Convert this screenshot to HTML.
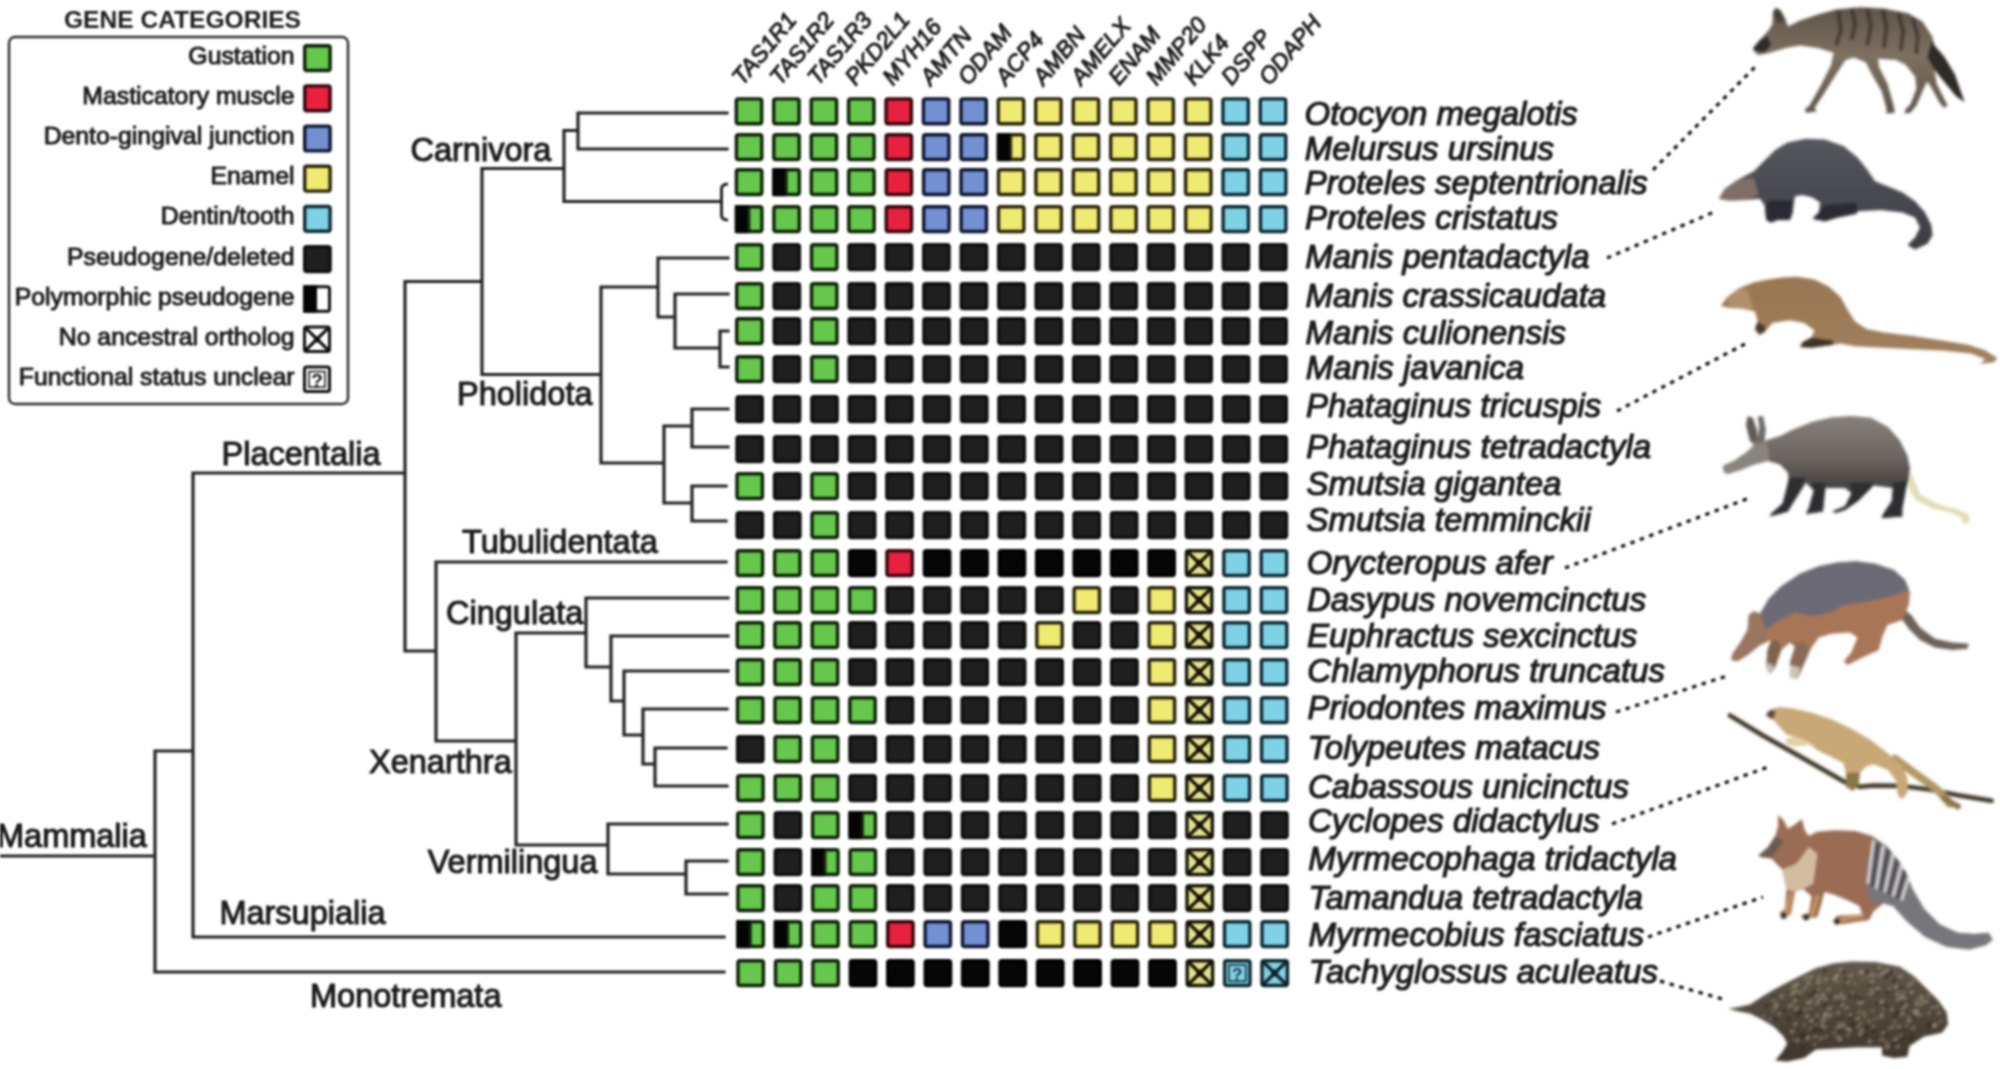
<!DOCTYPE html><html><head><meta charset="utf-8"><title>Figure</title><style>
html,body{margin:0;padding:0;background:#fff;width:2000px;height:1069px;overflow:hidden}
svg{display:block}#wrap{width:2000px;height:1069px;filter:blur(1px)}
text{font-family:"Liberation Sans", sans-serif}
</style></head><body><div id="wrap">
<svg width="2000" height="1069" viewBox="0 0 2000 1069">
<rect width="2000" height="1069" fill="#fff"/>
<text x="64" y="28" font-size="24" font-weight="bold" fill="#1c1c1c" textLength="237" lengthAdjust="spacingAndGlyphs">GENE CATEGORIES</text>
<rect x="9" y="37" width="339" height="367" rx="6" fill="none" stroke="#2a2a2a" stroke-width="2.4"/>
<text x="294.5" y="63.6" font-size="24.8" text-anchor="end" fill="#1c1c1c" stroke="#1c1c1c" stroke-width="1">Gustation</text>
<rect x="304.7" y="45.7" width="25.4" height="24.8" rx="2" fill="#66c74d" stroke="#0f2208" stroke-width="3.4"/>
<text x="294.5" y="103.8" font-size="24.8" text-anchor="end" fill="#1c1c1c" stroke="#1c1c1c" stroke-width="1">Masticatory muscle</text>
<rect x="304.7" y="85.9" width="25.4" height="24.8" rx="2" fill="#e8213e" stroke="#34060c" stroke-width="3.4"/>
<text x="294.5" y="144.0" font-size="24.8" text-anchor="end" fill="#1c1c1c" stroke="#1c1c1c" stroke-width="1">Dento-gingival junction</text>
<rect x="304.7" y="126.1" width="25.4" height="24.8" rx="2" fill="#7390d2" stroke="#0f1630" stroke-width="3.4"/>
<text x="294.5" y="184.2" font-size="24.8" text-anchor="end" fill="#1c1c1c" stroke="#1c1c1c" stroke-width="1">Enamel</text>
<rect x="304.7" y="166.3" width="25.4" height="24.8" rx="2" fill="#eeea72" stroke="#28240a" stroke-width="3.4"/>
<text x="294.5" y="224.4" font-size="24.8" text-anchor="end" fill="#1c1c1c" stroke="#1c1c1c" stroke-width="1">Dentin/tooth</text>
<rect x="304.7" y="206.5" width="25.4" height="24.8" rx="2" fill="#7fd2e6" stroke="#0f2a32" stroke-width="3.4"/>
<text x="294.5" y="264.6" font-size="24.8" text-anchor="end" fill="#1c1c1c" stroke="#1c1c1c" stroke-width="1">Pseudogene/deleted</text>
<rect x="304.7" y="246.7" width="25.4" height="24.8" rx="2" fill="#1f1f1f" stroke="#101010" stroke-width="3.4"/>
<text x="294.5" y="304.8" font-size="24.8" text-anchor="end" fill="#1c1c1c" stroke="#1c1c1c" stroke-width="1">Polymorphic pseudogene</text>
<rect x="304.5" y="286.7" width="25" height="24.5" rx="2" fill="#fff" stroke="#111" stroke-width="3"/>
<rect x="303" y="285.2" width="14" height="27.5" fill="#050505"/>
<text x="294.5" y="345.0" font-size="24.8" text-anchor="end" fill="#1c1c1c" stroke="#1c1c1c" stroke-width="1">No ancestral ortholog</text>
<rect x="304.5" y="326.9" width="25" height="24.5" rx="2" fill="#fff" stroke="#111" stroke-width="3"/>
<path d="M306 328.4L328 349.9M328 328.4L306 349.9" stroke="#111" stroke-width="3.2"/>
<rect x="314" y="336.4" width="6" height="6" fill="#111"/>
<text x="294.5" y="385.2" font-size="24.8" text-anchor="end" fill="#1c1c1c" stroke="#1c1c1c" stroke-width="1">Functional status unclear</text>
<rect x="304.5" y="367.1" width="25" height="24.5" rx="2" fill="#fff" stroke="#111" stroke-width="3"/>
<rect x="309" y="371.6" width="16" height="15.5" fill="none" stroke="#111" stroke-width="1.5"/>
<text x="317" y="387.1" font-size="19" font-weight="bold" text-anchor="middle" fill="#111">?</text>
<path d="M578 113L727 113M578 149L727 149M578 113L578 149M564 130.5L578 130.5M564 130.5L564 201.5M564 201.5L721 201.5M482 168.5L564 168.5M482 168.5L482 374.5M405 281.5L482 281.5M482 374.5L601 374.5M601 287L601 463M601 287L658 287M658 258L658 317M658 258L728 258M658 317L675 317M675 294L675 348M675 294L728 294M675 348L720 348M720 331L720 367M720 331L728 331M720 367L728 367M601 463L664 463M664 426L664 503M664 426L692 426M692 409L692 447M692 409L728 409M692 447L728 447M664 503L692 503M692 486L692 521M692 486L726 486M692 521L726 521M405 281.5L405 651M193 473L405 473M405 651L436 651M436 562L436 741M436 562L726 562M436 741L516 741M516 633L516 845M516 633L586 633M586 598L586 667M586 598L728 598M586 667L611 667M611 636L611 701M611 636L728 636M611 701L624 701M624 671L624 735M624 671L728 671M624 735L643 735M643 709L643 764M643 709L727 709M643 764L655 764M655 748L655 786M655 748L726 748M655 786L727 786M516 845L608 845M608 824L608 874M608 824L727 824M608 874L686 874M686 861L686 894M686 861L727 861M686 894L727 894M193 473L193 937M193 937L724 937M155 751L193 751M155 751L155 972M155 972L724 972M0 856L155 856" stroke="#232323" stroke-width="3.2" stroke-linecap="square" fill="none"/>
<path d="M728 184Q721.5 184 721.5 189L721.5 215Q721.5 220 728 220" stroke="#232323" stroke-width="3" fill="none"/>
<text x="410.5" y="160.7" font-size="32.5" fill="#1c1c1c" stroke="#1c1c1c" stroke-width="1.1">Carnivora</text>
<text x="457" y="405" font-size="32.5" fill="#1c1c1c" stroke="#1c1c1c" stroke-width="1.1">Pholidota</text>
<text x="221.5" y="465" font-size="32.5" fill="#1c1c1c" stroke="#1c1c1c" stroke-width="1.1">Placentalia</text>
<text x="462" y="552.5" font-size="32.5" fill="#1c1c1c" stroke="#1c1c1c" stroke-width="1.1">Tubulidentata</text>
<text x="446" y="624" font-size="32.5" fill="#1c1c1c" stroke="#1c1c1c" stroke-width="1.1">Cingulata</text>
<text x="369" y="772.5" font-size="32.5" fill="#1c1c1c" stroke="#1c1c1c" stroke-width="1.1">Xenarthra</text>
<text x="427.7" y="873.3" font-size="32.5" fill="#1c1c1c" stroke="#1c1c1c" stroke-width="1.1">Vermilingua</text>
<text x="219.4" y="924.2" font-size="32.5" fill="#1c1c1c" stroke="#1c1c1c" stroke-width="1.1">Marsupialia</text>
<text x="310" y="1007" font-size="32.5" fill="#1c1c1c" stroke="#1c1c1c" stroke-width="1.1">Monotremata</text>
<text x="-3" y="847" font-size="32.5" fill="#1c1c1c" stroke="#1c1c1c" stroke-width="1.1">Mammalia</text>
<rect x="736.3" y="98.9" width="25.4" height="24.8" rx="2" fill="#66c74d" stroke="#0f2208" stroke-width="3.4"/>
<rect x="773.7" y="98.9" width="25.4" height="24.8" rx="2" fill="#66c74d" stroke="#0f2208" stroke-width="3.4"/>
<rect x="811.2" y="98.9" width="25.4" height="24.8" rx="2" fill="#66c74d" stroke="#0f2208" stroke-width="3.4"/>
<rect x="848.6" y="98.9" width="25.4" height="24.8" rx="2" fill="#66c74d" stroke="#0f2208" stroke-width="3.4"/>
<rect x="886.0" y="98.9" width="25.4" height="24.8" rx="2" fill="#e8213e" stroke="#34060c" stroke-width="3.4"/>
<rect x="923.4" y="98.9" width="25.4" height="24.8" rx="2" fill="#7390d2" stroke="#0f1630" stroke-width="3.4"/>
<rect x="960.9" y="98.9" width="25.4" height="24.8" rx="2" fill="#7390d2" stroke="#0f1630" stroke-width="3.4"/>
<rect x="998.3" y="98.9" width="25.4" height="24.8" rx="2" fill="#eeea72" stroke="#28240a" stroke-width="3.4"/>
<rect x="1035.7" y="98.9" width="25.4" height="24.8" rx="2" fill="#eeea72" stroke="#28240a" stroke-width="3.4"/>
<rect x="1073.2" y="98.9" width="25.4" height="24.8" rx="2" fill="#eeea72" stroke="#28240a" stroke-width="3.4"/>
<rect x="1110.6" y="98.9" width="25.4" height="24.8" rx="2" fill="#eeea72" stroke="#28240a" stroke-width="3.4"/>
<rect x="1148.0" y="98.9" width="25.4" height="24.8" rx="2" fill="#eeea72" stroke="#28240a" stroke-width="3.4"/>
<rect x="1185.5" y="98.9" width="25.4" height="24.8" rx="2" fill="#eeea72" stroke="#28240a" stroke-width="3.4"/>
<rect x="1222.9" y="98.9" width="25.4" height="24.8" rx="2" fill="#7fd2e6" stroke="#0f2a32" stroke-width="3.4"/>
<rect x="1260.3" y="98.9" width="25.4" height="24.8" rx="2" fill="#7fd2e6" stroke="#0f2a32" stroke-width="3.4"/>
<rect x="736.4" y="134.7" width="25.4" height="24.8" rx="2" fill="#66c74d" stroke="#0f2208" stroke-width="3.4"/>
<rect x="773.8" y="134.7" width="25.4" height="24.8" rx="2" fill="#66c74d" stroke="#0f2208" stroke-width="3.4"/>
<rect x="811.2" y="134.7" width="25.4" height="24.8" rx="2" fill="#66c74d" stroke="#0f2208" stroke-width="3.4"/>
<rect x="848.7" y="134.7" width="25.4" height="24.8" rx="2" fill="#66c74d" stroke="#0f2208" stroke-width="3.4"/>
<rect x="886.1" y="134.7" width="25.4" height="24.8" rx="2" fill="#e8213e" stroke="#34060c" stroke-width="3.4"/>
<rect x="923.5" y="134.7" width="25.4" height="24.8" rx="2" fill="#7390d2" stroke="#0f1630" stroke-width="3.4"/>
<rect x="961.0" y="134.7" width="25.4" height="24.8" rx="2" fill="#7390d2" stroke="#0f1630" stroke-width="3.4"/>
<rect x="998.4" y="134.7" width="25.4" height="24.8" rx="2" fill="#eeea72" stroke="#28240a" stroke-width="3.4"/><rect x="996.7" y="133.0" width="13.5" height="28.2" fill="#050505"/><rect x="1010.2" y="135.0" width="2" height="24.2" fill="#28240a"/>
<rect x="1035.8" y="134.7" width="25.4" height="24.8" rx="2" fill="#eeea72" stroke="#28240a" stroke-width="3.4"/>
<rect x="1073.2" y="134.7" width="25.4" height="24.8" rx="2" fill="#eeea72" stroke="#28240a" stroke-width="3.4"/>
<rect x="1110.7" y="134.7" width="25.4" height="24.8" rx="2" fill="#eeea72" stroke="#28240a" stroke-width="3.4"/>
<rect x="1148.1" y="134.7" width="25.4" height="24.8" rx="2" fill="#eeea72" stroke="#28240a" stroke-width="3.4"/>
<rect x="1185.5" y="134.7" width="25.4" height="24.8" rx="2" fill="#eeea72" stroke="#28240a" stroke-width="3.4"/>
<rect x="1223.0" y="134.7" width="25.4" height="24.8" rx="2" fill="#7fd2e6" stroke="#0f2a32" stroke-width="3.4"/>
<rect x="1260.4" y="134.7" width="25.4" height="24.8" rx="2" fill="#7fd2e6" stroke="#0f2a32" stroke-width="3.4"/>
<rect x="736.4" y="169.7" width="25.4" height="24.8" rx="2" fill="#66c74d" stroke="#0f2208" stroke-width="3.4"/>
<rect x="773.9" y="169.7" width="25.4" height="24.8" rx="2" fill="#66c74d" stroke="#0f2208" stroke-width="3.4"/><rect x="772.2" y="168.0" width="13.5" height="28.2" fill="#050505"/><rect x="785.7" y="170.0" width="2" height="24.2" fill="#0f2208"/>
<rect x="811.3" y="169.7" width="25.4" height="24.8" rx="2" fill="#66c74d" stroke="#0f2208" stroke-width="3.4"/>
<rect x="848.7" y="169.7" width="25.4" height="24.8" rx="2" fill="#66c74d" stroke="#0f2208" stroke-width="3.4"/>
<rect x="886.2" y="169.7" width="25.4" height="24.8" rx="2" fill="#e8213e" stroke="#34060c" stroke-width="3.4"/>
<rect x="923.6" y="169.7" width="25.4" height="24.8" rx="2" fill="#7390d2" stroke="#0f1630" stroke-width="3.4"/>
<rect x="961.0" y="169.7" width="25.4" height="24.8" rx="2" fill="#7390d2" stroke="#0f1630" stroke-width="3.4"/>
<rect x="998.5" y="169.7" width="25.4" height="24.8" rx="2" fill="#eeea72" stroke="#28240a" stroke-width="3.4"/>
<rect x="1035.9" y="169.7" width="25.4" height="24.8" rx="2" fill="#eeea72" stroke="#28240a" stroke-width="3.4"/>
<rect x="1073.3" y="169.7" width="25.4" height="24.8" rx="2" fill="#eeea72" stroke="#28240a" stroke-width="3.4"/>
<rect x="1110.7" y="169.7" width="25.4" height="24.8" rx="2" fill="#eeea72" stroke="#28240a" stroke-width="3.4"/>
<rect x="1148.2" y="169.7" width="25.4" height="24.8" rx="2" fill="#eeea72" stroke="#28240a" stroke-width="3.4"/>
<rect x="1185.6" y="169.7" width="25.4" height="24.8" rx="2" fill="#eeea72" stroke="#28240a" stroke-width="3.4"/>
<rect x="1223.0" y="169.7" width="25.4" height="24.8" rx="2" fill="#7fd2e6" stroke="#0f2a32" stroke-width="3.4"/>
<rect x="1260.5" y="169.7" width="25.4" height="24.8" rx="2" fill="#7fd2e6" stroke="#0f2a32" stroke-width="3.4"/>
<rect x="736.5" y="206.7" width="25.4" height="24.8" rx="2" fill="#66c74d" stroke="#0f2208" stroke-width="3.4"/><rect x="734.8" y="205.0" width="13.5" height="28.2" fill="#050505"/><rect x="748.4" y="207.0" width="2" height="24.2" fill="#0f2208"/>
<rect x="773.9" y="206.7" width="25.4" height="24.8" rx="2" fill="#66c74d" stroke="#0f2208" stroke-width="3.4"/>
<rect x="811.4" y="206.7" width="25.4" height="24.8" rx="2" fill="#66c74d" stroke="#0f2208" stroke-width="3.4"/>
<rect x="848.8" y="206.7" width="25.4" height="24.8" rx="2" fill="#66c74d" stroke="#0f2208" stroke-width="3.4"/>
<rect x="886.2" y="206.7" width="25.4" height="24.8" rx="2" fill="#e8213e" stroke="#34060c" stroke-width="3.4"/>
<rect x="923.7" y="206.7" width="25.4" height="24.8" rx="2" fill="#7390d2" stroke="#0f1630" stroke-width="3.4"/>
<rect x="961.1" y="206.7" width="25.4" height="24.8" rx="2" fill="#7390d2" stroke="#0f1630" stroke-width="3.4"/>
<rect x="998.5" y="206.7" width="25.4" height="24.8" rx="2" fill="#eeea72" stroke="#28240a" stroke-width="3.4"/>
<rect x="1036.0" y="206.7" width="25.4" height="24.8" rx="2" fill="#eeea72" stroke="#28240a" stroke-width="3.4"/>
<rect x="1073.4" y="206.7" width="25.4" height="24.8" rx="2" fill="#eeea72" stroke="#28240a" stroke-width="3.4"/>
<rect x="1110.8" y="206.7" width="25.4" height="24.8" rx="2" fill="#eeea72" stroke="#28240a" stroke-width="3.4"/>
<rect x="1148.2" y="206.7" width="25.4" height="24.8" rx="2" fill="#eeea72" stroke="#28240a" stroke-width="3.4"/>
<rect x="1185.7" y="206.7" width="25.4" height="24.8" rx="2" fill="#eeea72" stroke="#28240a" stroke-width="3.4"/>
<rect x="1223.1" y="206.7" width="25.4" height="24.8" rx="2" fill="#7fd2e6" stroke="#0f2a32" stroke-width="3.4"/>
<rect x="1260.5" y="206.7" width="25.4" height="24.8" rx="2" fill="#7fd2e6" stroke="#0f2a32" stroke-width="3.4"/>
<rect x="736.6" y="244.7" width="25.4" height="24.8" rx="2" fill="#66c74d" stroke="#0f2208" stroke-width="3.4"/>
<rect x="774.0" y="244.7" width="25.4" height="24.8" rx="2" fill="#1f1f1f" stroke="#101010" stroke-width="3.4"/>
<rect x="811.5" y="244.7" width="25.4" height="24.8" rx="2" fill="#66c74d" stroke="#0f2208" stroke-width="3.4"/>
<rect x="848.9" y="244.7" width="25.4" height="24.8" rx="2" fill="#1f1f1f" stroke="#101010" stroke-width="3.4"/>
<rect x="886.3" y="244.7" width="25.4" height="24.8" rx="2" fill="#1f1f1f" stroke="#101010" stroke-width="3.4"/>
<rect x="923.7" y="244.7" width="25.4" height="24.8" rx="2" fill="#1f1f1f" stroke="#101010" stroke-width="3.4"/>
<rect x="961.2" y="244.7" width="25.4" height="24.8" rx="2" fill="#1f1f1f" stroke="#101010" stroke-width="3.4"/>
<rect x="998.6" y="244.7" width="25.4" height="24.8" rx="2" fill="#1f1f1f" stroke="#101010" stroke-width="3.4"/>
<rect x="1036.0" y="244.7" width="25.4" height="24.8" rx="2" fill="#1f1f1f" stroke="#101010" stroke-width="3.4"/>
<rect x="1073.5" y="244.7" width="25.4" height="24.8" rx="2" fill="#1f1f1f" stroke="#101010" stroke-width="3.4"/>
<rect x="1110.9" y="244.7" width="25.4" height="24.8" rx="2" fill="#1f1f1f" stroke="#101010" stroke-width="3.4"/>
<rect x="1148.3" y="244.7" width="25.4" height="24.8" rx="2" fill="#1f1f1f" stroke="#101010" stroke-width="3.4"/>
<rect x="1185.8" y="244.7" width="25.4" height="24.8" rx="2" fill="#1f1f1f" stroke="#101010" stroke-width="3.4"/>
<rect x="1223.2" y="244.7" width="25.4" height="24.8" rx="2" fill="#1f1f1f" stroke="#101010" stroke-width="3.4"/>
<rect x="1260.6" y="244.7" width="25.4" height="24.8" rx="2" fill="#1f1f1f" stroke="#101010" stroke-width="3.4"/>
<rect x="736.7" y="283.7" width="25.4" height="24.8" rx="2" fill="#66c74d" stroke="#0f2208" stroke-width="3.4"/>
<rect x="774.1" y="283.7" width="25.4" height="24.8" rx="2" fill="#1f1f1f" stroke="#101010" stroke-width="3.4"/>
<rect x="811.5" y="283.7" width="25.4" height="24.8" rx="2" fill="#66c74d" stroke="#0f2208" stroke-width="3.4"/>
<rect x="849.0" y="283.7" width="25.4" height="24.8" rx="2" fill="#1f1f1f" stroke="#101010" stroke-width="3.4"/>
<rect x="886.4" y="283.7" width="25.4" height="24.8" rx="2" fill="#1f1f1f" stroke="#101010" stroke-width="3.4"/>
<rect x="923.8" y="283.7" width="25.4" height="24.8" rx="2" fill="#1f1f1f" stroke="#101010" stroke-width="3.4"/>
<rect x="961.2" y="283.7" width="25.4" height="24.8" rx="2" fill="#1f1f1f" stroke="#101010" stroke-width="3.4"/>
<rect x="998.7" y="283.7" width="25.4" height="24.8" rx="2" fill="#1f1f1f" stroke="#101010" stroke-width="3.4"/>
<rect x="1036.1" y="283.7" width="25.4" height="24.8" rx="2" fill="#1f1f1f" stroke="#101010" stroke-width="3.4"/>
<rect x="1073.5" y="283.7" width="25.4" height="24.8" rx="2" fill="#1f1f1f" stroke="#101010" stroke-width="3.4"/>
<rect x="1111.0" y="283.7" width="25.4" height="24.8" rx="2" fill="#1f1f1f" stroke="#101010" stroke-width="3.4"/>
<rect x="1148.4" y="283.7" width="25.4" height="24.8" rx="2" fill="#1f1f1f" stroke="#101010" stroke-width="3.4"/>
<rect x="1185.8" y="283.7" width="25.4" height="24.8" rx="2" fill="#1f1f1f" stroke="#101010" stroke-width="3.4"/>
<rect x="1223.3" y="283.7" width="25.4" height="24.8" rx="2" fill="#1f1f1f" stroke="#101010" stroke-width="3.4"/>
<rect x="1260.7" y="283.7" width="25.4" height="24.8" rx="2" fill="#1f1f1f" stroke="#101010" stroke-width="3.4"/>
<rect x="736.7" y="318.7" width="25.4" height="24.8" rx="2" fill="#66c74d" stroke="#0f2208" stroke-width="3.4"/>
<rect x="774.2" y="318.7" width="25.4" height="24.8" rx="2" fill="#1f1f1f" stroke="#101010" stroke-width="3.4"/>
<rect x="811.6" y="318.7" width="25.4" height="24.8" rx="2" fill="#66c74d" stroke="#0f2208" stroke-width="3.4"/>
<rect x="849.0" y="318.7" width="25.4" height="24.8" rx="2" fill="#1f1f1f" stroke="#101010" stroke-width="3.4"/>
<rect x="886.5" y="318.7" width="25.4" height="24.8" rx="2" fill="#1f1f1f" stroke="#101010" stroke-width="3.4"/>
<rect x="923.9" y="318.7" width="25.4" height="24.8" rx="2" fill="#1f1f1f" stroke="#101010" stroke-width="3.4"/>
<rect x="961.3" y="318.7" width="25.4" height="24.8" rx="2" fill="#1f1f1f" stroke="#101010" stroke-width="3.4"/>
<rect x="998.7" y="318.7" width="25.4" height="24.8" rx="2" fill="#1f1f1f" stroke="#101010" stroke-width="3.4"/>
<rect x="1036.2" y="318.7" width="25.4" height="24.8" rx="2" fill="#1f1f1f" stroke="#101010" stroke-width="3.4"/>
<rect x="1073.6" y="318.7" width="25.4" height="24.8" rx="2" fill="#1f1f1f" stroke="#101010" stroke-width="3.4"/>
<rect x="1111.0" y="318.7" width="25.4" height="24.8" rx="2" fill="#1f1f1f" stroke="#101010" stroke-width="3.4"/>
<rect x="1148.5" y="318.7" width="25.4" height="24.8" rx="2" fill="#1f1f1f" stroke="#101010" stroke-width="3.4"/>
<rect x="1185.9" y="318.7" width="25.4" height="24.8" rx="2" fill="#1f1f1f" stroke="#101010" stroke-width="3.4"/>
<rect x="1223.3" y="318.7" width="25.4" height="24.8" rx="2" fill="#1f1f1f" stroke="#101010" stroke-width="3.4"/>
<rect x="1260.8" y="318.7" width="25.4" height="24.8" rx="2" fill="#1f1f1f" stroke="#101010" stroke-width="3.4"/>
<rect x="736.8" y="356.7" width="25.4" height="24.8" rx="2" fill="#66c74d" stroke="#0f2208" stroke-width="3.4"/>
<rect x="774.2" y="356.7" width="25.4" height="24.8" rx="2" fill="#1f1f1f" stroke="#101010" stroke-width="3.4"/>
<rect x="811.7" y="356.7" width="25.4" height="24.8" rx="2" fill="#66c74d" stroke="#0f2208" stroke-width="3.4"/>
<rect x="849.1" y="356.7" width="25.4" height="24.8" rx="2" fill="#1f1f1f" stroke="#101010" stroke-width="3.4"/>
<rect x="886.5" y="356.7" width="25.4" height="24.8" rx="2" fill="#1f1f1f" stroke="#101010" stroke-width="3.4"/>
<rect x="924.0" y="356.7" width="25.4" height="24.8" rx="2" fill="#1f1f1f" stroke="#101010" stroke-width="3.4"/>
<rect x="961.4" y="356.7" width="25.4" height="24.8" rx="2" fill="#1f1f1f" stroke="#101010" stroke-width="3.4"/>
<rect x="998.8" y="356.7" width="25.4" height="24.8" rx="2" fill="#1f1f1f" stroke="#101010" stroke-width="3.4"/>
<rect x="1036.3" y="356.7" width="25.4" height="24.8" rx="2" fill="#1f1f1f" stroke="#101010" stroke-width="3.4"/>
<rect x="1073.7" y="356.7" width="25.4" height="24.8" rx="2" fill="#1f1f1f" stroke="#101010" stroke-width="3.4"/>
<rect x="1111.1" y="356.7" width="25.4" height="24.8" rx="2" fill="#1f1f1f" stroke="#101010" stroke-width="3.4"/>
<rect x="1148.5" y="356.7" width="25.4" height="24.8" rx="2" fill="#1f1f1f" stroke="#101010" stroke-width="3.4"/>
<rect x="1186.0" y="356.7" width="25.4" height="24.8" rx="2" fill="#1f1f1f" stroke="#101010" stroke-width="3.4"/>
<rect x="1223.4" y="356.7" width="25.4" height="24.8" rx="2" fill="#1f1f1f" stroke="#101010" stroke-width="3.4"/>
<rect x="1260.8" y="356.7" width="25.4" height="24.8" rx="2" fill="#1f1f1f" stroke="#101010" stroke-width="3.4"/>
<rect x="736.9" y="396.7" width="25.4" height="24.8" rx="2" fill="#1f1f1f" stroke="#101010" stroke-width="3.4"/>
<rect x="774.3" y="396.7" width="25.4" height="24.8" rx="2" fill="#1f1f1f" stroke="#101010" stroke-width="3.4"/>
<rect x="811.8" y="396.7" width="25.4" height="24.8" rx="2" fill="#1f1f1f" stroke="#101010" stroke-width="3.4"/>
<rect x="849.2" y="396.7" width="25.4" height="24.8" rx="2" fill="#1f1f1f" stroke="#101010" stroke-width="3.4"/>
<rect x="886.6" y="396.7" width="25.4" height="24.8" rx="2" fill="#1f1f1f" stroke="#101010" stroke-width="3.4"/>
<rect x="924.0" y="396.7" width="25.4" height="24.8" rx="2" fill="#1f1f1f" stroke="#101010" stroke-width="3.4"/>
<rect x="961.5" y="396.7" width="25.4" height="24.8" rx="2" fill="#1f1f1f" stroke="#101010" stroke-width="3.4"/>
<rect x="998.9" y="396.7" width="25.4" height="24.8" rx="2" fill="#1f1f1f" stroke="#101010" stroke-width="3.4"/>
<rect x="1036.3" y="396.7" width="25.4" height="24.8" rx="2" fill="#1f1f1f" stroke="#101010" stroke-width="3.4"/>
<rect x="1073.8" y="396.7" width="25.4" height="24.8" rx="2" fill="#1f1f1f" stroke="#101010" stroke-width="3.4"/>
<rect x="1111.2" y="396.7" width="25.4" height="24.8" rx="2" fill="#1f1f1f" stroke="#101010" stroke-width="3.4"/>
<rect x="1148.6" y="396.7" width="25.4" height="24.8" rx="2" fill="#1f1f1f" stroke="#101010" stroke-width="3.4"/>
<rect x="1186.1" y="396.7" width="25.4" height="24.8" rx="2" fill="#1f1f1f" stroke="#101010" stroke-width="3.4"/>
<rect x="1223.5" y="396.7" width="25.4" height="24.8" rx="2" fill="#1f1f1f" stroke="#101010" stroke-width="3.4"/>
<rect x="1260.9" y="396.7" width="25.4" height="24.8" rx="2" fill="#1f1f1f" stroke="#101010" stroke-width="3.4"/>
<rect x="737.0" y="436.7" width="25.4" height="24.8" rx="2" fill="#1f1f1f" stroke="#101010" stroke-width="3.4"/>
<rect x="774.4" y="436.7" width="25.4" height="24.8" rx="2" fill="#1f1f1f" stroke="#101010" stroke-width="3.4"/>
<rect x="811.8" y="436.7" width="25.4" height="24.8" rx="2" fill="#1f1f1f" stroke="#101010" stroke-width="3.4"/>
<rect x="849.3" y="436.7" width="25.4" height="24.8" rx="2" fill="#1f1f1f" stroke="#101010" stroke-width="3.4"/>
<rect x="886.7" y="436.7" width="25.4" height="24.8" rx="2" fill="#1f1f1f" stroke="#101010" stroke-width="3.4"/>
<rect x="924.1" y="436.7" width="25.4" height="24.8" rx="2" fill="#1f1f1f" stroke="#101010" stroke-width="3.4"/>
<rect x="961.6" y="436.7" width="25.4" height="24.8" rx="2" fill="#1f1f1f" stroke="#101010" stroke-width="3.4"/>
<rect x="999.0" y="436.7" width="25.4" height="24.8" rx="2" fill="#1f1f1f" stroke="#101010" stroke-width="3.4"/>
<rect x="1036.4" y="436.7" width="25.4" height="24.8" rx="2" fill="#1f1f1f" stroke="#101010" stroke-width="3.4"/>
<rect x="1073.8" y="436.7" width="25.4" height="24.8" rx="2" fill="#1f1f1f" stroke="#101010" stroke-width="3.4"/>
<rect x="1111.3" y="436.7" width="25.4" height="24.8" rx="2" fill="#1f1f1f" stroke="#101010" stroke-width="3.4"/>
<rect x="1148.7" y="436.7" width="25.4" height="24.8" rx="2" fill="#1f1f1f" stroke="#101010" stroke-width="3.4"/>
<rect x="1186.1" y="436.7" width="25.4" height="24.8" rx="2" fill="#1f1f1f" stroke="#101010" stroke-width="3.4"/>
<rect x="1223.6" y="436.7" width="25.4" height="24.8" rx="2" fill="#1f1f1f" stroke="#101010" stroke-width="3.4"/>
<rect x="1261.0" y="436.7" width="25.4" height="24.8" rx="2" fill="#1f1f1f" stroke="#101010" stroke-width="3.4"/>
<rect x="737.0" y="473.7" width="25.4" height="24.8" rx="2" fill="#66c74d" stroke="#0f2208" stroke-width="3.4"/>
<rect x="774.5" y="473.7" width="25.4" height="24.8" rx="2" fill="#1f1f1f" stroke="#101010" stroke-width="3.4"/>
<rect x="811.9" y="473.7" width="25.4" height="24.8" rx="2" fill="#66c74d" stroke="#0f2208" stroke-width="3.4"/>
<rect x="849.3" y="473.7" width="25.4" height="24.8" rx="2" fill="#1f1f1f" stroke="#101010" stroke-width="3.4"/>
<rect x="886.8" y="473.7" width="25.4" height="24.8" rx="2" fill="#1f1f1f" stroke="#101010" stroke-width="3.4"/>
<rect x="924.2" y="473.7" width="25.4" height="24.8" rx="2" fill="#1f1f1f" stroke="#101010" stroke-width="3.4"/>
<rect x="961.6" y="473.7" width="25.4" height="24.8" rx="2" fill="#1f1f1f" stroke="#101010" stroke-width="3.4"/>
<rect x="999.1" y="473.7" width="25.4" height="24.8" rx="2" fill="#1f1f1f" stroke="#101010" stroke-width="3.4"/>
<rect x="1036.5" y="473.7" width="25.4" height="24.8" rx="2" fill="#1f1f1f" stroke="#101010" stroke-width="3.4"/>
<rect x="1073.9" y="473.7" width="25.4" height="24.8" rx="2" fill="#1f1f1f" stroke="#101010" stroke-width="3.4"/>
<rect x="1111.3" y="473.7" width="25.4" height="24.8" rx="2" fill="#1f1f1f" stroke="#101010" stroke-width="3.4"/>
<rect x="1148.8" y="473.7" width="25.4" height="24.8" rx="2" fill="#1f1f1f" stroke="#101010" stroke-width="3.4"/>
<rect x="1186.2" y="473.7" width="25.4" height="24.8" rx="2" fill="#1f1f1f" stroke="#101010" stroke-width="3.4"/>
<rect x="1223.6" y="473.7" width="25.4" height="24.8" rx="2" fill="#1f1f1f" stroke="#101010" stroke-width="3.4"/>
<rect x="1261.1" y="473.7" width="25.4" height="24.8" rx="2" fill="#1f1f1f" stroke="#101010" stroke-width="3.4"/>
<rect x="737.1" y="512.7" width="25.4" height="24.8" rx="2" fill="#1f1f1f" stroke="#101010" stroke-width="3.4"/>
<rect x="774.6" y="512.7" width="25.4" height="24.8" rx="2" fill="#1f1f1f" stroke="#101010" stroke-width="3.4"/>
<rect x="812.0" y="512.7" width="25.4" height="24.8" rx="2" fill="#66c74d" stroke="#0f2208" stroke-width="3.4"/>
<rect x="849.4" y="512.7" width="25.4" height="24.8" rx="2" fill="#1f1f1f" stroke="#101010" stroke-width="3.4"/>
<rect x="886.8" y="512.7" width="25.4" height="24.8" rx="2" fill="#1f1f1f" stroke="#101010" stroke-width="3.4"/>
<rect x="924.3" y="512.7" width="25.4" height="24.8" rx="2" fill="#1f1f1f" stroke="#101010" stroke-width="3.4"/>
<rect x="961.7" y="512.7" width="25.4" height="24.8" rx="2" fill="#1f1f1f" stroke="#101010" stroke-width="3.4"/>
<rect x="999.1" y="512.7" width="25.4" height="24.8" rx="2" fill="#1f1f1f" stroke="#101010" stroke-width="3.4"/>
<rect x="1036.6" y="512.7" width="25.4" height="24.8" rx="2" fill="#1f1f1f" stroke="#101010" stroke-width="3.4"/>
<rect x="1074.0" y="512.7" width="25.4" height="24.8" rx="2" fill="#1f1f1f" stroke="#101010" stroke-width="3.4"/>
<rect x="1111.4" y="512.7" width="25.4" height="24.8" rx="2" fill="#1f1f1f" stroke="#101010" stroke-width="3.4"/>
<rect x="1148.9" y="512.7" width="25.4" height="24.8" rx="2" fill="#1f1f1f" stroke="#101010" stroke-width="3.4"/>
<rect x="1186.3" y="512.7" width="25.4" height="24.8" rx="2" fill="#1f1f1f" stroke="#101010" stroke-width="3.4"/>
<rect x="1223.7" y="512.7" width="25.4" height="24.8" rx="2" fill="#1f1f1f" stroke="#101010" stroke-width="3.4"/>
<rect x="1261.1" y="512.7" width="25.4" height="24.8" rx="2" fill="#1f1f1f" stroke="#101010" stroke-width="3.4"/>
<rect x="737.2" y="550.7" width="25.4" height="24.8" rx="2" fill="#66c74d" stroke="#0f2208" stroke-width="3.4"/>
<rect x="774.6" y="550.7" width="25.4" height="24.8" rx="2" fill="#66c74d" stroke="#0f2208" stroke-width="3.4"/>
<rect x="812.1" y="550.7" width="25.4" height="24.8" rx="2" fill="#66c74d" stroke="#0f2208" stroke-width="3.4"/>
<rect x="849.5" y="550.7" width="25.4" height="24.8" rx="2" fill="#060606" stroke="#020202" stroke-width="3.4"/>
<rect x="886.9" y="550.7" width="25.4" height="24.8" rx="2" fill="#e8213e" stroke="#34060c" stroke-width="3.4"/>
<rect x="924.4" y="550.7" width="25.4" height="24.8" rx="2" fill="#060606" stroke="#020202" stroke-width="3.4"/>
<rect x="961.8" y="550.7" width="25.4" height="24.8" rx="2" fill="#060606" stroke="#020202" stroke-width="3.4"/>
<rect x="999.2" y="550.7" width="25.4" height="24.8" rx="2" fill="#060606" stroke="#020202" stroke-width="3.4"/>
<rect x="1036.6" y="550.7" width="25.4" height="24.8" rx="2" fill="#060606" stroke="#020202" stroke-width="3.4"/>
<rect x="1074.1" y="550.7" width="25.4" height="24.8" rx="2" fill="#060606" stroke="#020202" stroke-width="3.4"/>
<rect x="1111.5" y="550.7" width="25.4" height="24.8" rx="2" fill="#060606" stroke="#020202" stroke-width="3.4"/>
<rect x="1148.9" y="550.7" width="25.4" height="24.8" rx="2" fill="#060606" stroke="#020202" stroke-width="3.4"/>
<rect x="1186.4" y="550.7" width="25.4" height="24.8" rx="2" fill="#e4e28e" stroke="#161608" stroke-width="3.4"/><path d="M1187.7 552.0L1210.5 574.2M1210.5 552.0L1187.7 574.2" stroke="#161608" stroke-width="3.4"/><rect x="1195.6" y="559.6" width="7" height="7" fill="#161608"/>
<rect x="1223.8" y="550.7" width="25.4" height="24.8" rx="2" fill="#7fd2e6" stroke="#0f2a32" stroke-width="3.4"/>
<rect x="1261.2" y="550.7" width="25.4" height="24.8" rx="2" fill="#7fd2e6" stroke="#0f2a32" stroke-width="3.4"/>
<rect x="737.3" y="587.7" width="25.4" height="24.8" rx="2" fill="#66c74d" stroke="#0f2208" stroke-width="3.4"/>
<rect x="774.7" y="587.7" width="25.4" height="24.8" rx="2" fill="#66c74d" stroke="#0f2208" stroke-width="3.4"/>
<rect x="812.1" y="587.7" width="25.4" height="24.8" rx="2" fill="#66c74d" stroke="#0f2208" stroke-width="3.4"/>
<rect x="849.6" y="587.7" width="25.4" height="24.8" rx="2" fill="#66c74d" stroke="#0f2208" stroke-width="3.4"/>
<rect x="887.0" y="587.7" width="25.4" height="24.8" rx="2" fill="#1f1f1f" stroke="#101010" stroke-width="3.4"/>
<rect x="924.4" y="587.7" width="25.4" height="24.8" rx="2" fill="#1f1f1f" stroke="#101010" stroke-width="3.4"/>
<rect x="961.9" y="587.7" width="25.4" height="24.8" rx="2" fill="#1f1f1f" stroke="#101010" stroke-width="3.4"/>
<rect x="999.3" y="587.7" width="25.4" height="24.8" rx="2" fill="#1f1f1f" stroke="#101010" stroke-width="3.4"/>
<rect x="1036.7" y="587.7" width="25.4" height="24.8" rx="2" fill="#1f1f1f" stroke="#101010" stroke-width="3.4"/>
<rect x="1074.1" y="587.7" width="25.4" height="24.8" rx="2" fill="#eeea72" stroke="#28240a" stroke-width="3.4"/>
<rect x="1111.6" y="587.7" width="25.4" height="24.8" rx="2" fill="#1f1f1f" stroke="#101010" stroke-width="3.4"/>
<rect x="1149.0" y="587.7" width="25.4" height="24.8" rx="2" fill="#eeea72" stroke="#28240a" stroke-width="3.4"/>
<rect x="1186.4" y="587.7" width="25.4" height="24.8" rx="2" fill="#e4e28e" stroke="#161608" stroke-width="3.4"/><path d="M1187.7 589.0L1210.5 611.2M1210.5 589.0L1187.7 611.2" stroke="#161608" stroke-width="3.4"/><rect x="1195.6" y="596.6" width="7" height="7" fill="#161608"/>
<rect x="1223.9" y="587.7" width="25.4" height="24.8" rx="2" fill="#7fd2e6" stroke="#0f2a32" stroke-width="3.4"/>
<rect x="1261.3" y="587.7" width="25.4" height="24.8" rx="2" fill="#7fd2e6" stroke="#0f2a32" stroke-width="3.4"/>
<rect x="737.3" y="622.7" width="25.4" height="24.8" rx="2" fill="#66c74d" stroke="#0f2208" stroke-width="3.4"/>
<rect x="774.8" y="622.7" width="25.4" height="24.8" rx="2" fill="#66c74d" stroke="#0f2208" stroke-width="3.4"/>
<rect x="812.2" y="622.7" width="25.4" height="24.8" rx="2" fill="#66c74d" stroke="#0f2208" stroke-width="3.4"/>
<rect x="849.6" y="622.7" width="25.4" height="24.8" rx="2" fill="#1f1f1f" stroke="#101010" stroke-width="3.4"/>
<rect x="887.1" y="622.7" width="25.4" height="24.8" rx="2" fill="#1f1f1f" stroke="#101010" stroke-width="3.4"/>
<rect x="924.5" y="622.7" width="25.4" height="24.8" rx="2" fill="#1f1f1f" stroke="#101010" stroke-width="3.4"/>
<rect x="961.9" y="622.7" width="25.4" height="24.8" rx="2" fill="#1f1f1f" stroke="#101010" stroke-width="3.4"/>
<rect x="999.4" y="622.7" width="25.4" height="24.8" rx="2" fill="#1f1f1f" stroke="#101010" stroke-width="3.4"/>
<rect x="1036.8" y="622.7" width="25.4" height="24.8" rx="2" fill="#eeea72" stroke="#28240a" stroke-width="3.4"/>
<rect x="1074.2" y="622.7" width="25.4" height="24.8" rx="2" fill="#1f1f1f" stroke="#101010" stroke-width="3.4"/>
<rect x="1111.6" y="622.7" width="25.4" height="24.8" rx="2" fill="#1f1f1f" stroke="#101010" stroke-width="3.4"/>
<rect x="1149.1" y="622.7" width="25.4" height="24.8" rx="2" fill="#eeea72" stroke="#28240a" stroke-width="3.4"/>
<rect x="1186.5" y="622.7" width="25.4" height="24.8" rx="2" fill="#e4e28e" stroke="#161608" stroke-width="3.4"/><path d="M1187.8 624.0L1210.6 646.2M1210.6 624.0L1187.8 646.2" stroke="#161608" stroke-width="3.4"/><rect x="1195.7" y="631.6" width="7" height="7" fill="#161608"/>
<rect x="1223.9" y="622.7" width="25.4" height="24.8" rx="2" fill="#7fd2e6" stroke="#0f2a32" stroke-width="3.4"/>
<rect x="1261.4" y="622.7" width="25.4" height="24.8" rx="2" fill="#7fd2e6" stroke="#0f2a32" stroke-width="3.4"/>
<rect x="737.4" y="659.7" width="25.4" height="24.8" rx="2" fill="#66c74d" stroke="#0f2208" stroke-width="3.4"/>
<rect x="774.9" y="659.7" width="25.4" height="24.8" rx="2" fill="#66c74d" stroke="#0f2208" stroke-width="3.4"/>
<rect x="812.3" y="659.7" width="25.4" height="24.8" rx="2" fill="#66c74d" stroke="#0f2208" stroke-width="3.4"/>
<rect x="849.7" y="659.7" width="25.4" height="24.8" rx="2" fill="#1f1f1f" stroke="#101010" stroke-width="3.4"/>
<rect x="887.1" y="659.7" width="25.4" height="24.8" rx="2" fill="#1f1f1f" stroke="#101010" stroke-width="3.4"/>
<rect x="924.6" y="659.7" width="25.4" height="24.8" rx="2" fill="#1f1f1f" stroke="#101010" stroke-width="3.4"/>
<rect x="962.0" y="659.7" width="25.4" height="24.8" rx="2" fill="#1f1f1f" stroke="#101010" stroke-width="3.4"/>
<rect x="999.4" y="659.7" width="25.4" height="24.8" rx="2" fill="#1f1f1f" stroke="#101010" stroke-width="3.4"/>
<rect x="1036.9" y="659.7" width="25.4" height="24.8" rx="2" fill="#1f1f1f" stroke="#101010" stroke-width="3.4"/>
<rect x="1074.3" y="659.7" width="25.4" height="24.8" rx="2" fill="#1f1f1f" stroke="#101010" stroke-width="3.4"/>
<rect x="1111.7" y="659.7" width="25.4" height="24.8" rx="2" fill="#1f1f1f" stroke="#101010" stroke-width="3.4"/>
<rect x="1149.2" y="659.7" width="25.4" height="24.8" rx="2" fill="#eeea72" stroke="#28240a" stroke-width="3.4"/>
<rect x="1186.6" y="659.7" width="25.4" height="24.8" rx="2" fill="#e4e28e" stroke="#161608" stroke-width="3.4"/><path d="M1187.9 661.0L1210.7 683.2M1210.7 661.0L1187.9 683.2" stroke="#161608" stroke-width="3.4"/><rect x="1195.8" y="668.6" width="7" height="7" fill="#161608"/>
<rect x="1224.0" y="659.7" width="25.4" height="24.8" rx="2" fill="#7fd2e6" stroke="#0f2a32" stroke-width="3.4"/>
<rect x="1261.4" y="659.7" width="25.4" height="24.8" rx="2" fill="#7fd2e6" stroke="#0f2a32" stroke-width="3.4"/>
<rect x="737.5" y="697.7" width="25.4" height="24.8" rx="2" fill="#66c74d" stroke="#0f2208" stroke-width="3.4"/>
<rect x="774.9" y="697.7" width="25.4" height="24.8" rx="2" fill="#66c74d" stroke="#0f2208" stroke-width="3.4"/>
<rect x="812.4" y="697.7" width="25.4" height="24.8" rx="2" fill="#66c74d" stroke="#0f2208" stroke-width="3.4"/>
<rect x="849.8" y="697.7" width="25.4" height="24.8" rx="2" fill="#66c74d" stroke="#0f2208" stroke-width="3.4"/>
<rect x="887.2" y="697.7" width="25.4" height="24.8" rx="2" fill="#1f1f1f" stroke="#101010" stroke-width="3.4"/>
<rect x="924.6" y="697.7" width="25.4" height="24.8" rx="2" fill="#1f1f1f" stroke="#101010" stroke-width="3.4"/>
<rect x="962.1" y="697.7" width="25.4" height="24.8" rx="2" fill="#1f1f1f" stroke="#101010" stroke-width="3.4"/>
<rect x="999.5" y="697.7" width="25.4" height="24.8" rx="2" fill="#1f1f1f" stroke="#101010" stroke-width="3.4"/>
<rect x="1036.9" y="697.7" width="25.4" height="24.8" rx="2" fill="#1f1f1f" stroke="#101010" stroke-width="3.4"/>
<rect x="1074.4" y="697.7" width="25.4" height="24.8" rx="2" fill="#1f1f1f" stroke="#101010" stroke-width="3.4"/>
<rect x="1111.8" y="697.7" width="25.4" height="24.8" rx="2" fill="#1f1f1f" stroke="#101010" stroke-width="3.4"/>
<rect x="1149.2" y="697.7" width="25.4" height="24.8" rx="2" fill="#eeea72" stroke="#28240a" stroke-width="3.4"/>
<rect x="1186.7" y="697.7" width="25.4" height="24.8" rx="2" fill="#e4e28e" stroke="#161608" stroke-width="3.4"/><path d="M1188.0 699.0L1210.8 721.2M1210.8 699.0L1188.0 721.2" stroke="#161608" stroke-width="3.4"/><rect x="1195.9" y="706.6" width="7" height="7" fill="#161608"/>
<rect x="1224.1" y="697.7" width="25.4" height="24.8" rx="2" fill="#7fd2e6" stroke="#0f2a32" stroke-width="3.4"/>
<rect x="1261.5" y="697.7" width="25.4" height="24.8" rx="2" fill="#7fd2e6" stroke="#0f2a32" stroke-width="3.4"/>
<rect x="737.6" y="736.7" width="25.4" height="24.8" rx="2" fill="#1f1f1f" stroke="#101010" stroke-width="3.4"/>
<rect x="775.0" y="736.7" width="25.4" height="24.8" rx="2" fill="#66c74d" stroke="#0f2208" stroke-width="3.4"/>
<rect x="812.4" y="736.7" width="25.4" height="24.8" rx="2" fill="#66c74d" stroke="#0f2208" stroke-width="3.4"/>
<rect x="849.9" y="736.7" width="25.4" height="24.8" rx="2" fill="#1f1f1f" stroke="#101010" stroke-width="3.4"/>
<rect x="887.3" y="736.7" width="25.4" height="24.8" rx="2" fill="#1f1f1f" stroke="#101010" stroke-width="3.4"/>
<rect x="924.7" y="736.7" width="25.4" height="24.8" rx="2" fill="#1f1f1f" stroke="#101010" stroke-width="3.4"/>
<rect x="962.2" y="736.7" width="25.4" height="24.8" rx="2" fill="#1f1f1f" stroke="#101010" stroke-width="3.4"/>
<rect x="999.6" y="736.7" width="25.4" height="24.8" rx="2" fill="#1f1f1f" stroke="#101010" stroke-width="3.4"/>
<rect x="1037.0" y="736.7" width="25.4" height="24.8" rx="2" fill="#1f1f1f" stroke="#101010" stroke-width="3.4"/>
<rect x="1074.4" y="736.7" width="25.4" height="24.8" rx="2" fill="#1f1f1f" stroke="#101010" stroke-width="3.4"/>
<rect x="1111.9" y="736.7" width="25.4" height="24.8" rx="2" fill="#1f1f1f" stroke="#101010" stroke-width="3.4"/>
<rect x="1149.3" y="736.7" width="25.4" height="24.8" rx="2" fill="#eeea72" stroke="#28240a" stroke-width="3.4"/>
<rect x="1186.7" y="736.7" width="25.4" height="24.8" rx="2" fill="#e4e28e" stroke="#161608" stroke-width="3.4"/><path d="M1188.0 738.0L1210.8 760.2M1210.8 738.0L1188.0 760.2" stroke="#161608" stroke-width="3.4"/><rect x="1195.9" y="745.6" width="7" height="7" fill="#161608"/>
<rect x="1224.2" y="736.7" width="25.4" height="24.8" rx="2" fill="#7fd2e6" stroke="#0f2a32" stroke-width="3.4"/>
<rect x="1261.6" y="736.7" width="25.4" height="24.8" rx="2" fill="#7fd2e6" stroke="#0f2a32" stroke-width="3.4"/>
<rect x="737.7" y="775.7" width="25.4" height="24.8" rx="2" fill="#66c74d" stroke="#0f2208" stroke-width="3.4"/>
<rect x="775.1" y="775.7" width="25.4" height="24.8" rx="2" fill="#66c74d" stroke="#0f2208" stroke-width="3.4"/>
<rect x="812.5" y="775.7" width="25.4" height="24.8" rx="2" fill="#66c74d" stroke="#0f2208" stroke-width="3.4"/>
<rect x="849.9" y="775.7" width="25.4" height="24.8" rx="2" fill="#1f1f1f" stroke="#101010" stroke-width="3.4"/>
<rect x="887.4" y="775.7" width="25.4" height="24.8" rx="2" fill="#1f1f1f" stroke="#101010" stroke-width="3.4"/>
<rect x="924.8" y="775.7" width="25.4" height="24.8" rx="2" fill="#1f1f1f" stroke="#101010" stroke-width="3.4"/>
<rect x="962.2" y="775.7" width="25.4" height="24.8" rx="2" fill="#1f1f1f" stroke="#101010" stroke-width="3.4"/>
<rect x="999.7" y="775.7" width="25.4" height="24.8" rx="2" fill="#1f1f1f" stroke="#101010" stroke-width="3.4"/>
<rect x="1037.1" y="775.7" width="25.4" height="24.8" rx="2" fill="#1f1f1f" stroke="#101010" stroke-width="3.4"/>
<rect x="1074.5" y="775.7" width="25.4" height="24.8" rx="2" fill="#1f1f1f" stroke="#101010" stroke-width="3.4"/>
<rect x="1112.0" y="775.7" width="25.4" height="24.8" rx="2" fill="#1f1f1f" stroke="#101010" stroke-width="3.4"/>
<rect x="1149.4" y="775.7" width="25.4" height="24.8" rx="2" fill="#eeea72" stroke="#28240a" stroke-width="3.4"/>
<rect x="1186.8" y="775.7" width="25.4" height="24.8" rx="2" fill="#e4e28e" stroke="#161608" stroke-width="3.4"/><path d="M1188.1 777.0L1210.9 799.2M1210.9 777.0L1188.1 799.2" stroke="#161608" stroke-width="3.4"/><rect x="1196.0" y="784.6" width="7" height="7" fill="#161608"/>
<rect x="1224.2" y="775.7" width="25.4" height="24.8" rx="2" fill="#7fd2e6" stroke="#0f2a32" stroke-width="3.4"/>
<rect x="1261.7" y="775.7" width="25.4" height="24.8" rx="2" fill="#7fd2e6" stroke="#0f2a32" stroke-width="3.4"/>
<rect x="737.7" y="812.7" width="25.4" height="24.8" rx="2" fill="#66c74d" stroke="#0f2208" stroke-width="3.4"/>
<rect x="775.2" y="812.7" width="25.4" height="24.8" rx="2" fill="#1f1f1f" stroke="#101010" stroke-width="3.4"/>
<rect x="812.6" y="812.7" width="25.4" height="24.8" rx="2" fill="#66c74d" stroke="#0f2208" stroke-width="3.4"/>
<rect x="850.0" y="812.7" width="25.4" height="24.8" rx="2" fill="#66c74d" stroke="#0f2208" stroke-width="3.4"/><rect x="848.3" y="811.0" width="13.5" height="28.2" fill="#050505"/><rect x="861.9" y="813.0" width="2" height="24.2" fill="#0f2208"/>
<rect x="887.4" y="812.7" width="25.4" height="24.8" rx="2" fill="#1f1f1f" stroke="#101010" stroke-width="3.4"/>
<rect x="924.9" y="812.7" width="25.4" height="24.8" rx="2" fill="#1f1f1f" stroke="#101010" stroke-width="3.4"/>
<rect x="962.3" y="812.7" width="25.4" height="24.8" rx="2" fill="#1f1f1f" stroke="#101010" stroke-width="3.4"/>
<rect x="999.7" y="812.7" width="25.4" height="24.8" rx="2" fill="#1f1f1f" stroke="#101010" stroke-width="3.4"/>
<rect x="1037.2" y="812.7" width="25.4" height="24.8" rx="2" fill="#1f1f1f" stroke="#101010" stroke-width="3.4"/>
<rect x="1074.6" y="812.7" width="25.4" height="24.8" rx="2" fill="#1f1f1f" stroke="#101010" stroke-width="3.4"/>
<rect x="1112.0" y="812.7" width="25.4" height="24.8" rx="2" fill="#1f1f1f" stroke="#101010" stroke-width="3.4"/>
<rect x="1149.5" y="812.7" width="25.4" height="24.8" rx="2" fill="#1f1f1f" stroke="#101010" stroke-width="3.4"/>
<rect x="1186.9" y="812.7" width="25.4" height="24.8" rx="2" fill="#e4e28e" stroke="#161608" stroke-width="3.4"/><path d="M1188.2 814.0L1211.0 836.2M1211.0 814.0L1188.2 836.2" stroke="#161608" stroke-width="3.4"/><rect x="1196.1" y="821.6" width="7" height="7" fill="#161608"/>
<rect x="1224.3" y="812.7" width="25.4" height="24.8" rx="2" fill="#1f1f1f" stroke="#101010" stroke-width="3.4"/>
<rect x="1261.7" y="812.7" width="25.4" height="24.8" rx="2" fill="#1f1f1f" stroke="#101010" stroke-width="3.4"/>
<rect x="737.8" y="849.7" width="25.4" height="24.8" rx="2" fill="#66c74d" stroke="#0f2208" stroke-width="3.4"/>
<rect x="775.2" y="849.7" width="25.4" height="24.8" rx="2" fill="#1f1f1f" stroke="#101010" stroke-width="3.4"/>
<rect x="812.7" y="849.7" width="25.4" height="24.8" rx="2" fill="#66c74d" stroke="#0f2208" stroke-width="3.4"/><rect x="811.0" y="848.0" width="13.5" height="28.2" fill="#050505"/><rect x="824.5" y="850.0" width="2" height="24.2" fill="#0f2208"/>
<rect x="850.1" y="849.7" width="25.4" height="24.8" rx="2" fill="#66c74d" stroke="#0f2208" stroke-width="3.4"/>
<rect x="887.5" y="849.7" width="25.4" height="24.8" rx="2" fill="#1f1f1f" stroke="#101010" stroke-width="3.4"/>
<rect x="925.0" y="849.7" width="25.4" height="24.8" rx="2" fill="#1f1f1f" stroke="#101010" stroke-width="3.4"/>
<rect x="962.4" y="849.7" width="25.4" height="24.8" rx="2" fill="#1f1f1f" stroke="#101010" stroke-width="3.4"/>
<rect x="999.8" y="849.7" width="25.4" height="24.8" rx="2" fill="#1f1f1f" stroke="#101010" stroke-width="3.4"/>
<rect x="1037.2" y="849.7" width="25.4" height="24.8" rx="2" fill="#1f1f1f" stroke="#101010" stroke-width="3.4"/>
<rect x="1074.7" y="849.7" width="25.4" height="24.8" rx="2" fill="#1f1f1f" stroke="#101010" stroke-width="3.4"/>
<rect x="1112.1" y="849.7" width="25.4" height="24.8" rx="2" fill="#1f1f1f" stroke="#101010" stroke-width="3.4"/>
<rect x="1149.5" y="849.7" width="25.4" height="24.8" rx="2" fill="#1f1f1f" stroke="#101010" stroke-width="3.4"/>
<rect x="1187.0" y="849.7" width="25.4" height="24.8" rx="2" fill="#e4e28e" stroke="#161608" stroke-width="3.4"/><path d="M1188.3 851.0L1211.1 873.2M1211.1 851.0L1188.3 873.2" stroke="#161608" stroke-width="3.4"/><rect x="1196.2" y="858.6" width="7" height="7" fill="#161608"/>
<rect x="1224.4" y="849.7" width="25.4" height="24.8" rx="2" fill="#1f1f1f" stroke="#101010" stroke-width="3.4"/>
<rect x="1261.8" y="849.7" width="25.4" height="24.8" rx="2" fill="#1f1f1f" stroke="#101010" stroke-width="3.4"/>
<rect x="737.9" y="885.7" width="25.4" height="24.8" rx="2" fill="#66c74d" stroke="#0f2208" stroke-width="3.4"/>
<rect x="775.3" y="885.7" width="25.4" height="24.8" rx="2" fill="#1f1f1f" stroke="#101010" stroke-width="3.4"/>
<rect x="812.7" y="885.7" width="25.4" height="24.8" rx="2" fill="#66c74d" stroke="#0f2208" stroke-width="3.4"/>
<rect x="850.2" y="885.7" width="25.4" height="24.8" rx="2" fill="#66c74d" stroke="#0f2208" stroke-width="3.4"/>
<rect x="887.6" y="885.7" width="25.4" height="24.8" rx="2" fill="#1f1f1f" stroke="#101010" stroke-width="3.4"/>
<rect x="925.0" y="885.7" width="25.4" height="24.8" rx="2" fill="#1f1f1f" stroke="#101010" stroke-width="3.4"/>
<rect x="962.5" y="885.7" width="25.4" height="24.8" rx="2" fill="#1f1f1f" stroke="#101010" stroke-width="3.4"/>
<rect x="999.9" y="885.7" width="25.4" height="24.8" rx="2" fill="#1f1f1f" stroke="#101010" stroke-width="3.4"/>
<rect x="1037.3" y="885.7" width="25.4" height="24.8" rx="2" fill="#1f1f1f" stroke="#101010" stroke-width="3.4"/>
<rect x="1074.7" y="885.7" width="25.4" height="24.8" rx="2" fill="#1f1f1f" stroke="#101010" stroke-width="3.4"/>
<rect x="1112.2" y="885.7" width="25.4" height="24.8" rx="2" fill="#1f1f1f" stroke="#101010" stroke-width="3.4"/>
<rect x="1149.6" y="885.7" width="25.4" height="24.8" rx="2" fill="#1f1f1f" stroke="#101010" stroke-width="3.4"/>
<rect x="1187.0" y="885.7" width="25.4" height="24.8" rx="2" fill="#e4e28e" stroke="#161608" stroke-width="3.4"/><path d="M1188.3 887.0L1211.1 909.2M1211.1 887.0L1188.3 909.2" stroke="#161608" stroke-width="3.4"/><rect x="1196.2" y="894.6" width="7" height="7" fill="#161608"/>
<rect x="1224.5" y="885.7" width="25.4" height="24.8" rx="2" fill="#1f1f1f" stroke="#101010" stroke-width="3.4"/>
<rect x="1261.9" y="885.7" width="25.4" height="24.8" rx="2" fill="#1f1f1f" stroke="#101010" stroke-width="3.4"/>
<rect x="737.9" y="921.7" width="25.4" height="24.8" rx="2" fill="#66c74d" stroke="#0f2208" stroke-width="3.4"/><rect x="736.2" y="920.0" width="13.5" height="28.2" fill="#050505"/><rect x="749.8" y="922.0" width="2" height="24.2" fill="#0f2208"/>
<rect x="775.4" y="921.7" width="25.4" height="24.8" rx="2" fill="#66c74d" stroke="#0f2208" stroke-width="3.4"/><rect x="773.7" y="920.0" width="13.5" height="28.2" fill="#050505"/><rect x="787.2" y="922.0" width="2" height="24.2" fill="#0f2208"/>
<rect x="812.8" y="921.7" width="25.4" height="24.8" rx="2" fill="#66c74d" stroke="#0f2208" stroke-width="3.4"/>
<rect x="850.2" y="921.7" width="25.4" height="24.8" rx="2" fill="#66c74d" stroke="#0f2208" stroke-width="3.4"/>
<rect x="887.7" y="921.7" width="25.4" height="24.8" rx="2" fill="#e8213e" stroke="#34060c" stroke-width="3.4"/>
<rect x="925.1" y="921.7" width="25.4" height="24.8" rx="2" fill="#7390d2" stroke="#0f1630" stroke-width="3.4"/>
<rect x="962.5" y="921.7" width="25.4" height="24.8" rx="2" fill="#7390d2" stroke="#0f1630" stroke-width="3.4"/>
<rect x="1000.0" y="921.7" width="25.4" height="24.8" rx="2" fill="#060606" stroke="#020202" stroke-width="3.4"/>
<rect x="1037.4" y="921.7" width="25.4" height="24.8" rx="2" fill="#eeea72" stroke="#28240a" stroke-width="3.4"/>
<rect x="1074.8" y="921.7" width="25.4" height="24.8" rx="2" fill="#eeea72" stroke="#28240a" stroke-width="3.4"/>
<rect x="1112.2" y="921.7" width="25.4" height="24.8" rx="2" fill="#eeea72" stroke="#28240a" stroke-width="3.4"/>
<rect x="1149.7" y="921.7" width="25.4" height="24.8" rx="2" fill="#eeea72" stroke="#28240a" stroke-width="3.4"/>
<rect x="1187.1" y="921.7" width="25.4" height="24.8" rx="2" fill="#e4e28e" stroke="#161608" stroke-width="3.4"/><path d="M1188.4 923.0L1211.2 945.2M1211.2 923.0L1188.4 945.2" stroke="#161608" stroke-width="3.4"/><rect x="1196.3" y="930.6" width="7" height="7" fill="#161608"/>
<rect x="1224.5" y="921.7" width="25.4" height="24.8" rx="2" fill="#7fd2e6" stroke="#0f2a32" stroke-width="3.4"/>
<rect x="1262.0" y="921.7" width="25.4" height="24.8" rx="2" fill="#7fd2e6" stroke="#0f2a32" stroke-width="3.4"/>
<rect x="738.0" y="960.7" width="25.4" height="24.8" rx="2" fill="#66c74d" stroke="#0f2208" stroke-width="3.4"/>
<rect x="775.5" y="960.7" width="25.4" height="24.8" rx="2" fill="#66c74d" stroke="#0f2208" stroke-width="3.4"/>
<rect x="812.9" y="960.7" width="25.4" height="24.8" rx="2" fill="#66c74d" stroke="#0f2208" stroke-width="3.4"/>
<rect x="850.3" y="960.7" width="25.4" height="24.8" rx="2" fill="#060606" stroke="#020202" stroke-width="3.4"/>
<rect x="887.7" y="960.7" width="25.4" height="24.8" rx="2" fill="#060606" stroke="#020202" stroke-width="3.4"/>
<rect x="925.2" y="960.7" width="25.4" height="24.8" rx="2" fill="#060606" stroke="#020202" stroke-width="3.4"/>
<rect x="962.6" y="960.7" width="25.4" height="24.8" rx="2" fill="#060606" stroke="#020202" stroke-width="3.4"/>
<rect x="1000.0" y="960.7" width="25.4" height="24.8" rx="2" fill="#060606" stroke="#020202" stroke-width="3.4"/>
<rect x="1037.5" y="960.7" width="25.4" height="24.8" rx="2" fill="#060606" stroke="#020202" stroke-width="3.4"/>
<rect x="1074.9" y="960.7" width="25.4" height="24.8" rx="2" fill="#060606" stroke="#020202" stroke-width="3.4"/>
<rect x="1112.3" y="960.7" width="25.4" height="24.8" rx="2" fill="#060606" stroke="#020202" stroke-width="3.4"/>
<rect x="1149.8" y="960.7" width="25.4" height="24.8" rx="2" fill="#060606" stroke="#020202" stroke-width="3.4"/>
<rect x="1187.2" y="960.7" width="25.4" height="24.8" rx="2" fill="#e4e28e" stroke="#161608" stroke-width="3.4"/><path d="M1188.5 962.0L1211.3 984.2M1211.3 962.0L1188.5 984.2" stroke="#161608" stroke-width="3.4"/><rect x="1196.4" y="969.6" width="7" height="7" fill="#161608"/>
<rect x="1224.6" y="960.7" width="25.4" height="24.8" rx="2" fill="#7fd2e6" stroke="#0f2a32" stroke-width="3.4"/><rect x="1228.9" y="965.0" width="16.8" height="16.2" fill="none" stroke="#0f2a32" stroke-width="1.5"/><text x="1237.3" y="979.7" font-size="17" font-weight="bold" text-anchor="middle" fill="#1d3a44">?</text>
<rect x="1262.0" y="960.7" width="25.4" height="24.8" rx="2" fill="#86cfe0" stroke="#0c2630" stroke-width="3.4"/><path d="M1263.3 962.0L1286.1 984.2M1286.1 962.0L1263.3 984.2" stroke="#0c2630" stroke-width="3.4"/><rect x="1271.2" y="969.6" width="7" height="7" fill="#0c2630"/>
<text x="742.6" y="86.5" font-size="23.2" font-style="italic" fill="#1c1c1c" stroke="#1c1c1c" stroke-width="1" transform="rotate(-50 742.6 86.5)">TAS1R1</text>
<text x="780.2" y="86.5" font-size="23.2" font-style="italic" fill="#1c1c1c" stroke="#1c1c1c" stroke-width="1" transform="rotate(-50 780.2 86.5)">TAS1R2</text>
<text x="817.9" y="86.5" font-size="23.2" font-style="italic" fill="#1c1c1c" stroke="#1c1c1c" stroke-width="1" transform="rotate(-50 817.9 86.5)">TAS1R3</text>
<text x="855.5" y="86.5" font-size="23.2" font-style="italic" fill="#1c1c1c" stroke="#1c1c1c" stroke-width="1" transform="rotate(-50 855.5 86.5)">PKD2L1</text>
<text x="893.1" y="86.5" font-size="23.2" font-style="italic" fill="#1c1c1c" stroke="#1c1c1c" stroke-width="1" transform="rotate(-50 893.1 86.5)">MYH16</text>
<text x="930.8" y="86.5" font-size="23.2" font-style="italic" fill="#1c1c1c" stroke="#1c1c1c" stroke-width="1" transform="rotate(-50 930.8 86.5)">AMTN</text>
<text x="968.4" y="86.5" font-size="23.2" font-style="italic" fill="#1c1c1c" stroke="#1c1c1c" stroke-width="1" transform="rotate(-50 968.4 86.5)">ODAM</text>
<text x="1006.0" y="86.5" font-size="23.2" font-style="italic" fill="#1c1c1c" stroke="#1c1c1c" stroke-width="1" transform="rotate(-50 1006.0 86.5)">ACP4</text>
<text x="1043.6" y="86.5" font-size="23.2" font-style="italic" fill="#1c1c1c" stroke="#1c1c1c" stroke-width="1" transform="rotate(-50 1043.6 86.5)">AMBN</text>
<text x="1081.3" y="86.5" font-size="23.2" font-style="italic" fill="#1c1c1c" stroke="#1c1c1c" stroke-width="1" transform="rotate(-50 1081.3 86.5)">AMELX</text>
<text x="1118.9" y="86.5" font-size="23.2" font-style="italic" fill="#1c1c1c" stroke="#1c1c1c" stroke-width="1" transform="rotate(-50 1118.9 86.5)">ENAM</text>
<text x="1156.5" y="86.5" font-size="23.2" font-style="italic" fill="#1c1c1c" stroke="#1c1c1c" stroke-width="1" transform="rotate(-50 1156.5 86.5)">MMP20</text>
<text x="1194.2" y="86.5" font-size="23.2" font-style="italic" fill="#1c1c1c" stroke="#1c1c1c" stroke-width="1" transform="rotate(-50 1194.2 86.5)">KLK4</text>
<text x="1231.8" y="86.5" font-size="23.2" font-style="italic" fill="#1c1c1c" stroke="#1c1c1c" stroke-width="1" transform="rotate(-50 1231.8 86.5)">DSPP</text>
<text x="1269.4" y="86.5" font-size="23.2" font-style="italic" fill="#1c1c1c" stroke="#1c1c1c" stroke-width="1" transform="rotate(-50 1269.4 86.5)">ODAPH</text>
<text x="1304.5" y="125" font-size="33" font-style="italic" fill="#1c1c1c" stroke="#1c1c1c" stroke-width="1.2">Otocyon megalotis</text>
<text x="1304.7" y="160" font-size="33" font-style="italic" fill="#1c1c1c" stroke="#1c1c1c" stroke-width="1.2">Melursus ursinus</text>
<text x="1304.8" y="194" font-size="33" font-style="italic" fill="#1c1c1c" stroke="#1c1c1c" stroke-width="1.2">Proteles septentrionalis</text>
<text x="1305.0" y="229" font-size="33" font-style="italic" fill="#1c1c1c" stroke="#1c1c1c" stroke-width="1.2">Proteles cristatus</text>
<text x="1305.2" y="268" font-size="33" font-style="italic" fill="#1c1c1c" stroke="#1c1c1c" stroke-width="1.2">Manis pentadactyla</text>
<text x="1305.4" y="306.8" font-size="33" font-style="italic" fill="#1c1c1c" stroke="#1c1c1c" stroke-width="1.2">Manis crassicaudata</text>
<text x="1305.6" y="344" font-size="33" font-style="italic" fill="#1c1c1c" stroke="#1c1c1c" stroke-width="1.2">Manis culionensis</text>
<text x="1305.8" y="379" font-size="33" font-style="italic" fill="#1c1c1c" stroke="#1c1c1c" stroke-width="1.2">Manis javanica</text>
<text x="1306.0" y="416.8" font-size="33" font-style="italic" fill="#1c1c1c" stroke="#1c1c1c" stroke-width="1.2">Phataginus tricuspis</text>
<text x="1306.2" y="457.5" font-size="33" font-style="italic" fill="#1c1c1c" stroke="#1c1c1c" stroke-width="1.2">Phataginus tetradactyla</text>
<text x="1306.4" y="495.4" font-size="33" font-style="italic" fill="#1c1c1c" stroke="#1c1c1c" stroke-width="1.2">Smutsia gigantea</text>
<text x="1306.5" y="530.5" font-size="33" font-style="italic" fill="#1c1c1c" stroke="#1c1c1c" stroke-width="1.2">Smutsia temminckii</text>
<text x="1306.7" y="574" font-size="33" font-style="italic" fill="#1c1c1c" stroke="#1c1c1c" stroke-width="1.2">Orycteropus afer</text>
<text x="1306.9" y="610.5" font-size="33" font-style="italic" fill="#1c1c1c" stroke="#1c1c1c" stroke-width="1.2">Dasypus novemcinctus</text>
<text x="1307.1" y="647" font-size="33" font-style="italic" fill="#1c1c1c" stroke="#1c1c1c" stroke-width="1.2">Euphractus sexcinctus</text>
<text x="1307.3" y="682" font-size="33" font-style="italic" fill="#1c1c1c" stroke="#1c1c1c" stroke-width="1.2">Chlamyphorus truncatus</text>
<text x="1307.5" y="718.7" font-size="33" font-style="italic" fill="#1c1c1c" stroke="#1c1c1c" stroke-width="1.2">Priodontes maximus</text>
<text x="1307.7" y="758.8" font-size="33" font-style="italic" fill="#1c1c1c" stroke="#1c1c1c" stroke-width="1.2">Tolypeutes matacus</text>
<text x="1307.9" y="798" font-size="33" font-style="italic" fill="#1c1c1c" stroke="#1c1c1c" stroke-width="1.2">Cabassous unicinctus</text>
<text x="1308.0" y="832.4" font-size="33" font-style="italic" fill="#1c1c1c" stroke="#1c1c1c" stroke-width="1.2">Cyclopes didactylus</text>
<text x="1308.2" y="870" font-size="33" font-style="italic" fill="#1c1c1c" stroke="#1c1c1c" stroke-width="1.2">Myrmecophaga tridactyla</text>
<text x="1308.4" y="908.8" font-size="33" font-style="italic" fill="#1c1c1c" stroke="#1c1c1c" stroke-width="1.2">Tamandua tetradactyla</text>
<text x="1308.6" y="946.4" font-size="33" font-style="italic" fill="#1c1c1c" stroke="#1c1c1c" stroke-width="1.2">Myrmecobius fasciatus</text>
<text x="1308.8" y="983" font-size="33" font-style="italic" fill="#1c1c1c" stroke="#1c1c1c" stroke-width="1.2">Tachyglossus aculeatus</text>
<line x1="1653" y1="170" x2="1756" y2="66" stroke="#222" stroke-width="3.4" stroke-dasharray="4.5 5.5"/>
<line x1="1607" y1="258" x2="1714" y2="212" stroke="#222" stroke-width="3.4" stroke-dasharray="4.5 5.5"/>
<line x1="1617" y1="411" x2="1745" y2="344" stroke="#222" stroke-width="3.4" stroke-dasharray="4.5 5.5"/>
<line x1="1565" y1="568" x2="1752" y2="497" stroke="#222" stroke-width="3.4" stroke-dasharray="4.5 5.5"/>
<line x1="1616" y1="712" x2="1730" y2="675" stroke="#222" stroke-width="3.4" stroke-dasharray="4.5 5.5"/>
<line x1="1612" y1="824" x2="1768" y2="767" stroke="#222" stroke-width="3.4" stroke-dasharray="4.5 5.5"/>
<line x1="1648" y1="937" x2="1763" y2="897" stroke="#222" stroke-width="3.4" stroke-dasharray="4.5 5.5"/>
<line x1="1660" y1="981" x2="1726" y2="1000" stroke="#222" stroke-width="3.4" stroke-dasharray="4.5 5.5"/>
<defs>
<filter id="bl" x="-5%" y="-5%" width="110%" height="110%"><feGaussianBlur stdDeviation="0.8"/></filter>
<linearGradient id="awg" x1="0" y1="0" x2="0" y2="1"><stop offset="0" stop-color="#5e5448"/><stop offset="0.45" stop-color="#7e7060"/><stop offset="1" stop-color="#5e554a"/></linearGradient>
<linearGradient id="avg" x1="0" y1="0" x2="0" y2="1"><stop offset="0" stop-color="#88807a"/><stop offset="0.4" stop-color="#6c6660"/><stop offset="0.7" stop-color="#454241"/><stop offset="1" stop-color="#2a2a2c"/></linearGradient>
<linearGradient id="pgg" x1="0" y1="0" x2="0" y2="1"><stop offset="0" stop-color="#56565e"/><stop offset="1" stop-color="#3c3c44"/></linearGradient>
<linearGradient id="bpg" x1="0" y1="0" x2="0" y2="1"><stop offset="0" stop-color="#9a7652"/><stop offset="1" stop-color="#a0805e"/></linearGradient>
<linearGradient id="ecg" x1="0" y1="0" x2="0" y2="1"><stop offset="0" stop-color="#62594a"/><stop offset="1" stop-color="#3e362c"/></linearGradient>
</defs>
<g filter="url(#bl)">
<path d="M1753.8 50.4 L1753.2 48.0 L1760.4 39.6 L1768.8 30.0 L1772.4 24.0 L1773.0 12.0 L1776.0 7.8 L1780.8 10.8 L1785.6 19.2 L1788.0 26.4 L1800.0 20.4 L1818.0 14.4 L1836.0 9.6 L1860.0 7.2 L1884.0 8.4 L1908.0 13.2 L1922.4 21.6 L1932.0 36.0 L1934.4 45.6 L1944.0 56.4 L1954.8 74.4 L1963.2 98.4 L1964.4 102.0 L1956.0 96.0 L1944.0 81.6 L1934.4 69.6 L1936.8 84.0 L1944.0 98.4 L1947.6 105.6 L1944.0 108.0 L1939.2 102.0 L1932.0 88.8 L1927.2 81.6 L1923.6 88.8 L1916.4 105.6 L1910.4 112.8 L1904.4 113.4 L1905.6 109.2 L1910.4 104.4 L1916.4 88.8 L1915.2 76.8 L1905.6 64.8 L1896.0 60.0 L1878.0 58.8 L1879.2 67.2 L1887.6 84.0 L1893.6 105.6 L1894.8 112.8 L1886.4 113.4 L1886.4 108.0 L1881.6 91.2 L1872.0 74.4 L1866.0 62.4 L1854.0 57.6 L1845.6 60.0 L1836.0 74.4 L1824.0 93.6 L1814.4 108.0 L1816.8 111.6 L1806.0 112.8 L1804.8 109.2 L1809.6 105.6 L1821.6 84.0 L1831.2 64.8 L1833.6 52.8 L1818.0 48.0 L1800.0 45.6 L1785.6 48.0 L1770.0 52.8 L1758.0 55.2 Z" fill="url(#awg)"/>
<path d="M1932.0 39.6 L1934.4 45.6 L1944.0 56.4 L1954.8 74.4 L1963.2 98.4 L1964.4 102.0 L1956.0 96.0 L1944.0 81.6 L1934.4 69.6 L1927.2 57.6 Z" fill="#2f2a26"/>
<path d="M1838.4 10.8 L1840.8 30.0 L1836.0 45.6" fill="none" stroke="#3a3129" stroke-width="4" opacity="0.8"/>
<path d="M1851.6 8.4 L1855.2 24.0 L1851.6 39.6" fill="none" stroke="#3a3129" stroke-width="4" opacity="0.8"/>
<path d="M1867.2 8.4 L1870.8 26.4 L1867.2 45.6" fill="none" stroke="#3a3129" stroke-width="4" opacity="0.8"/>
<path d="M1882.8 9.6 L1886.4 27.6 L1884.0 48.0" fill="none" stroke="#3a3129" stroke-width="4" opacity="0.8"/>
<path d="M1898.4 13.2 L1903.2 31.2 L1900.8 50.4" fill="none" stroke="#3a3129" stroke-width="4" opacity="0.8"/>
<path d="M1912.8 18.0 L1917.6 36.0 L1916.4 54.0" fill="none" stroke="#3a3129" stroke-width="4" opacity="0.8"/>
<path d="M1753.8 50.4 L1753.2 48.0 L1760.4 39.6 L1767.6 36.0 L1771.2 45.6 L1764.0 52.8 Z" fill="#2e2c2c"/>
<path d="M1773.0 12.0 L1776.0 7.8 L1780.8 10.8 L1784.4 19.2 L1778.4 24.0 Z" fill="#4a4038"/>
</g>
<g filter="url(#bl)">
<path d="M1718.8 198.8 L1725.0 188.8 L1737.5 180.0 L1753.8 171.2 L1765.0 160.0 L1775.0 150.0 L1787.5 142.5 L1806.2 138.8 L1825.0 139.4 L1843.8 146.2 L1857.5 157.5 L1867.5 170.0 L1875.0 181.2 L1887.5 186.2 L1902.5 192.5 L1915.0 201.2 L1925.0 212.5 L1931.2 225.0 L1932.5 235.0 L1927.5 243.8 L1915.0 249.4 L1907.5 245.0 L1915.0 237.5 L1920.0 227.5 L1915.0 217.5 L1902.5 212.5 L1881.2 210.0 L1857.5 211.2 L1856.2 213.8 L1837.5 217.5 L1825.0 221.2 L1812.5 218.8 L1818.8 212.5 L1820.0 202.5 L1812.5 197.5 L1802.5 195.0 L1795.0 196.2 L1792.5 212.5 L1790.0 220.0 L1777.5 220.0 L1771.2 222.5 L1766.2 220.0 L1765.0 206.2 L1760.0 198.8 L1743.8 200.0 L1728.8 200.6 Z" fill="url(#pgg)"/>
<path d="M1718.8 198.8 L1725.0 188.8 L1737.5 180.0 L1753.8 177.5 L1758.8 195.0 L1743.8 200.0 L1728.8 200.6 Z" fill="#7e6e66"/>
<path d="M1766.2 220.0 L1765.0 206.2 L1770.0 200.0 L1792.5 200.0 L1792.5 212.5 L1790.0 220.0 L1777.5 220.0 L1771.2 222.5 Z" fill="#2a2a30"/>
<path d="M1818.8 212.5 L1825.0 205.0 L1856.2 202.5 L1857.5 211.2 L1856.2 213.8 L1837.5 217.5 L1825.0 221.2 L1812.5 218.8 Z" fill="#2a2a30"/>
</g>
<g filter="url(#bl)">
<path d="M1720.9 305.7 L1727.4 297.0 L1739.0 288.3 L1753.5 282.5 L1768.0 279.6 L1782.5 277.4 L1797.0 276.7 L1814.4 279.6 L1828.9 286.8 L1840.5 297.0 L1847.7 310.0 L1855.0 321.6 L1866.6 328.9 L1884.0 332.5 L1913.0 336.1 L1942.0 340.5 L1968.1 344.8 L1985.5 350.6 L1997.1 357.9 L1994.2 362.2 L1979.7 363.7 L1985.5 359.3 L1971.0 353.5 L1942.0 350.6 L1913.0 349.2 L1884.0 347.7 L1855.0 346.3 L1840.5 343.4 L1833.2 344.8 L1811.5 347.7 L1799.9 347.0 L1802.8 341.9 L1811.5 337.6 L1814.4 330.3 L1804.2 323.1 L1789.7 320.2 L1772.3 323.1 L1765.1 331.8 L1759.3 334.7 L1754.9 328.9 L1757.8 321.6 L1754.9 311.5 L1741.9 308.6 L1728.8 307.9 Z" fill="url(#bpg)"/>
<path d="M1727.4 297.0 L1739.0 288.3 L1747.7 289.7 L1753.5 310.0 L1741.9 308.6 L1728.8 307.9 Z" fill="#b89a74" opacity="0.7"/>
<path d="M1799.9 347.0 L1802.8 341.9 L1811.5 337.6 L1833.2 340.5 L1833.2 344.8 L1811.5 347.7 Z" fill="#3c3228"/>
<path d="M1759.3 334.7 L1754.9 328.9 L1757.8 321.6 L1765.1 326.0 L1765.1 331.8 Z" fill="#4a3a2c"/>
</g>
<g filter="url(#bl)">
<path d="M1910.0 471.1 L1915.2 482.8 L1920.4 494.5 L1936.0 503.6 L1955.5 508.8 L1968.5 514.0 L1969.8 521.8 L1963.3 524.4 L1962.0 517.9 L1951.6 512.7 L1933.4 508.8 L1915.2 499.7 L1908.7 488.0 Z" fill="#e2ddb4"/>
<path d="M1722.8 465.9 L1734.5 460.7 L1747.5 451.6 L1754.0 445.1 L1750.1 441.2 L1746.2 425.6 L1747.5 416.5 L1752.7 417.8 L1756.6 429.5 L1757.9 439.9 L1759.2 425.6 L1757.9 416.5 L1763.1 416.5 L1765.7 429.5 L1764.4 441.2 L1767.0 439.9 L1780.0 436.0 L1793.0 429.5 L1812.5 421.7 L1832.0 417.2 L1851.5 415.9 L1871.0 417.8 L1887.9 426.9 L1899.6 439.9 L1907.4 455.5 L1910.0 468.5 L1908.7 480.2 L1906.1 488.0 L1902.2 508.8 L1902.2 516.6 L1881.4 517.9 L1884.0 512.7 L1891.8 501.0 L1893.1 488.0 L1873.6 485.4 L1871.0 488.0 L1858.0 501.0 L1845.0 510.1 L1835.9 512.7 L1832.0 511.4 L1845.0 506.2 L1851.5 493.2 L1845.0 488.0 L1825.5 488.0 L1822.9 511.4 L1806.0 514.0 L1808.6 508.8 L1813.8 490.6 L1808.6 485.4 L1806.0 482.8 L1787.8 511.4 L1769.6 516.6 L1772.2 512.7 L1782.6 503.6 L1789.1 482.8 L1787.8 472.4 L1780.0 464.6 L1767.0 460.7 L1754.0 464.6 L1741.0 469.8 L1728.0 473.7 L1724.1 472.4 Z" fill="url(#avg)"/>
<path d="M1746.2 425.6 L1747.5 416.5 L1752.7 417.8 L1756.6 429.5 L1757.9 439.9 L1750.1 441.2 Z" fill="#5e5a58"/>
<path d="M1757.9 439.9 L1759.2 425.6 L1757.9 416.5 L1763.1 416.5 L1765.7 429.5 L1764.4 441.2 Z" fill="#6e6a66"/>
<path d="M1906.1 488.0 L1902.2 508.8 L1902.2 516.6 L1881.4 517.9 L1884.0 512.7 L1891.8 501.0 L1893.1 482.8 L1907.4 480.2 Z" fill="#2f2f31"/>
<path d="M1873.6 482.8 L1871.0 488.0 L1858.0 501.0 L1845.0 510.1 L1835.9 512.7 L1832.0 511.4 L1845.0 506.2 L1851.5 493.2 L1850.2 482.8 Z" fill="#2f2f31"/>
<path d="M1825.5 482.8 L1822.9 511.4 L1806.0 514.0 L1808.6 508.8 L1813.8 490.6 L1811.2 482.8 Z" fill="#2f2f31"/>
<path d="M1806.0 477.6 L1787.8 511.4 L1769.6 516.6 L1772.2 512.7 L1782.6 503.6 L1789.1 477.6 Z" fill="#2f2f31"/>
<path d="M1722.8 465.9 L1734.5 460.7 L1747.5 451.6 L1754.0 445.1 L1767.0 441.2 L1769.6 460.7 L1754.0 464.6 L1741.0 469.8 L1728.0 473.7 L1724.1 472.4 Z" fill="#8a847e"/>
</g>
<g filter="url(#bl)">
<path d="M1905.0 610.0 L1911.2 615.0 L1920.0 627.5 L1935.0 638.8 L1952.5 642.5 L1968.8 643.8 L1967.5 648.8 L1952.5 650.0 L1935.0 647.5 L1920.0 640.0 L1908.8 628.8 L1902.5 620.0 Z" fill="#6c6258"/>
<path d="M1731.2 660.0 L1732.5 653.8 L1741.2 641.2 L1747.5 630.0 L1748.8 615.0 L1753.8 611.2 L1760.0 613.8 L1768.8 598.8 L1781.2 586.2 L1800.0 573.8 L1818.8 566.2 L1837.5 562.5 L1856.2 561.2 L1875.0 563.8 L1893.8 570.0 L1905.0 580.0 L1910.0 592.5 L1908.8 605.0 L1902.5 620.0 L1887.5 625.0 L1882.5 636.2 L1878.8 650.0 L1862.5 657.5 L1847.5 665.0 L1843.8 661.2 L1851.2 652.5 L1857.5 637.5 L1850.0 632.5 L1831.2 633.8 L1818.8 637.5 L1810.0 650.0 L1802.5 667.5 L1797.5 678.8 L1790.0 677.5 L1790.0 662.5 L1795.0 646.2 L1790.0 642.5 L1781.2 650.0 L1775.0 667.5 L1770.0 673.8 L1766.2 667.5 L1767.5 650.0 L1771.2 640.0 L1760.0 645.0 L1747.5 655.0 L1737.5 661.2 Z" fill="#a87656"/>
<path d="M1760.0 613.8 L1768.8 598.8 L1781.2 586.2 L1800.0 573.8 L1818.8 566.2 L1837.5 562.5 L1856.2 561.2 L1875.0 563.8 L1893.8 570.0 L1905.0 580.0 L1910.0 592.5 L1908.8 590.0 L1887.5 597.5 L1862.5 602.5 L1843.8 605.0 L1831.2 612.5 L1812.5 616.2 L1795.0 612.5 L1777.5 621.2 L1766.2 630.0 Z" fill="#6c6a74"/>
<path d="M1731.2 660.0 L1732.5 653.8 L1741.2 641.2 L1747.5 630.0 L1748.8 615.0 L1753.8 611.2 L1760.0 613.8 L1766.2 630.0 L1766.2 642.5 L1760.0 645.0 L1747.5 655.0 L1737.5 661.2 Z" fill="#9a7460"/>
<path d="M1790.0 642.5 L1795.0 646.2 L1790.0 662.5 L1790.0 677.5 L1797.5 678.8 L1802.5 667.5 L1810.0 650.0 L1805.0 642.5 Z" fill="#8a6a56"/>
<path d="M1771.2 640.0 L1767.5 650.0 L1766.2 667.5 L1770.0 673.8 L1775.0 667.5 L1781.2 650.0 L1778.8 641.2 Z" fill="#7e6450"/>
<path d="M1790.0 665.0 L1790.0 677.5 L1797.5 678.8 L1800.0 667.5 Z" fill="#cbc3b6"/>
<path d="M1766.9 662.5 L1766.2 667.5 L1770.0 673.8 L1774.4 666.2 Z" fill="#c8c0b2"/>
</g>
<g filter="url(#bl)">
<path d="M1729.8 715.4 L1762.0 735.0 L1804.0 758.8 L1846.0 782.6 L1860.0 786.8 L1874.0 785.4 L1902.0 786.1 L1930.0 789.6 L1958.0 795.2 L1991.6 800.8" fill="none" stroke="#3a3022" stroke-width="4.5" stroke-linecap="round"/>
<path d="M1895.0 758.8 L1916.0 774.2 L1935.6 788.2 L1944.0 796.6 L1949.6 803.6" fill="none" stroke="#b39866" stroke-width="8" stroke-linecap="round"/>
<path d="M1944.0 798.0 L1952.4 803.6 L1958.0 806.4" fill="none" stroke="#8a7448" stroke-width="6" stroke-linecap="round"/>
<path d="M1766.2 714.0 L1770.4 709.8 L1778.8 707.0 L1792.8 708.4 L1811.0 712.6 L1832.0 719.6 L1853.0 729.4 L1871.2 740.6 L1888.0 753.2 L1902.0 765.8 L1907.6 778.4 L1907.6 792.4 L1902.0 799.4 L1897.8 795.2 L1896.4 781.2 L1888.0 770.0 L1874.0 764.4 L1867.0 765.8 L1860.0 772.8 L1858.6 784.0 L1853.0 791.0 L1846.0 786.8 L1846.0 772.8 L1843.2 763.0 L1829.2 756.0 L1818.0 750.4 L1809.6 744.8 L1798.4 746.2 L1787.2 744.8 L1785.8 739.2 L1795.6 736.4 L1787.2 735.0 L1780.2 728.0 L1773.2 719.6 L1767.6 716.8 Z" fill="#c8a877"/>
<path d="M1785.8 739.2 L1795.6 736.4 L1809.6 742.0 L1818.0 750.4 L1809.6 744.8 L1798.4 746.2 L1787.2 744.8 Z" fill="#e2cfa8"/>
<path d="M1846.0 772.8 L1860.0 772.8 L1858.6 784.0 L1853.0 791.0 L1846.0 786.8 Z" fill="#8a7446"/>
<path d="M1766.2 714.0 L1770.4 709.8 L1776.0 711.2 L1773.2 719.6 L1767.6 716.8 Z" fill="#5a4634"/>
</g>
<g filter="url(#bl)">
<path d="M1758.4 855.5 L1768.2 847.1 L1775.3 835.9 L1778.1 826.0 L1778.1 814.8 L1783.7 820.4 L1787.9 828.8 L1794.9 824.6 L1801.9 819.0 L1804.7 830.3 L1808.9 835.9 L1817.3 831.7 L1834.2 830.3 L1855.2 831.0 L1872.1 835.9 L1887.5 847.1 L1898.7 861.1 L1907.1 875.1 L1912.7 889.2 L1924.0 908.8 L1939.4 924.2 L1957.6 932.7 L1974.5 934.1 L1988.5 932.7 L1992.7 939.7 L1985.7 945.3 L1968.9 949.5 L1946.4 946.7 L1925.4 936.9 L1907.1 921.4 L1893.1 906.0 L1883.3 903.2 L1873.5 911.6 L1869.2 920.0 L1841.2 924.2 L1832.8 921.4 L1837.0 915.8 L1862.2 914.4 L1859.4 906.0 L1848.2 900.4 L1834.2 894.8 L1824.4 892.0 L1821.5 903.2 L1817.3 917.2 L1803.3 918.6 L1800.5 915.8 L1808.9 913.0 L1811.7 896.2 L1803.3 889.2 L1794.9 892.0 L1790.7 914.4 L1782.3 917.2 L1779.5 913.0 L1785.1 908.8 L1786.5 889.2 L1782.3 869.5 L1771.0 858.3 L1761.2 856.9 Z" fill="#9a6c52"/>
<path d="M1873.5 837.3 L1887.5 847.1 L1898.7 861.1 L1907.1 875.1 L1912.7 889.2 L1924.0 908.8 L1939.4 924.2 L1957.6 932.7 L1974.5 934.1 L1988.5 932.7 L1992.7 939.7 L1985.7 945.3 L1968.9 949.5 L1946.4 946.7 L1925.4 936.9 L1907.1 921.4 L1893.1 906.0 L1883.3 903.2 L1873.5 903.2 L1866.4 889.2 L1867.8 863.9 Z" fill="#77767c"/>
<path d="M1873.5 840.1 L1867.8 883.6" fill="none" stroke="#e4e2e0" stroke-width="2.4"/>
<path d="M1883.3 845.7 L1876.3 889.2" fill="none" stroke="#e4e2e0" stroke-width="2.4"/>
<path d="M1893.1 854.1 L1884.7 892.0" fill="none" stroke="#e4e2e0" stroke-width="2.4"/>
<path d="M1901.5 865.3 L1893.1 896.2" fill="none" stroke="#e4e2e0" stroke-width="2.4"/>
<path d="M1908.5 878.0 L1901.5 900.4" fill="none" stroke="#e4e2e0" stroke-width="2.4"/>
<path d="M1878.4 842.9 L1872.1 886.4" fill="none" stroke="#2c2830" stroke-width="2.2"/>
<path d="M1888.2 849.9 L1880.5 890.6" fill="none" stroke="#2c2830" stroke-width="2.2"/>
<path d="M1897.3 859.7 L1888.9 894.8" fill="none" stroke="#2c2830" stroke-width="2.2"/>
<path d="M1905.0 870.9 L1897.3 899.0" fill="none" stroke="#2c2830" stroke-width="2.2"/>
<path d="M1782.3 869.5 L1796.3 863.9 L1808.9 847.1 L1817.3 854.1 L1813.1 883.6 L1803.3 889.2 L1794.9 892.0 L1786.5 889.2 Z" fill="#d9c7aa" opacity="0.9"/>
<path d="M1758.4 855.5 L1768.2 847.1 L1775.3 835.9 L1783.7 841.5 L1771.0 858.3 L1761.2 856.9 Z" fill="#6a5a50"/>
<path d="M1790.7 894.8 L1786.5 914.4" fill="none" stroke="#c89660" stroke-width="3.5" stroke-linecap="round"/>
<path d="M1817.3 896.2 L1811.7 915.8" fill="none" stroke="#c89660" stroke-width="3.5" stroke-linecap="round"/>
<path d="M1862.2 915.8 L1839.8 920.0" fill="none" stroke="#c89660" stroke-width="3.5" stroke-linecap="round"/>
<circle cx="1783.7" cy="915.8" r="3" fill="#2a2424"/>
<circle cx="1806.1" cy="917.2" r="3" fill="#2a2424"/>
<circle cx="1837.0" cy="921.4" r="3" fill="#2a2424"/>
</g>
<g filter="url(#bl)">
<path d="M1728.4 1008.8 L1739.2 1007.0 L1750.0 1004.6 L1762.0 996.8 L1774.0 989.6 L1789.6 981.2 L1804.0 974.0 L1816.0 968.0 L1834.0 963.2 L1852.0 961.4 L1876.0 962.0 L1900.0 966.8 L1914.4 976.4 L1926.4 988.4 L1938.4 1000.4 L1946.8 1012.4 L1948.0 1024.4 L1942.0 1032.8 L1924.0 1036.4 L1909.6 1046.0 L1907.2 1056.8 L1894.0 1058.0 L1882.0 1055.6 L1882.0 1047.2 L1858.0 1047.2 L1834.0 1048.4 L1816.0 1049.6 L1804.0 1058.0 L1787.2 1061.6 L1775.2 1060.4 L1782.4 1052.0 L1787.2 1043.6 L1783.6 1036.4 L1774.0 1026.8 L1762.0 1019.6 L1750.0 1013.6 L1738.0 1011.2 Z" fill="url(#ecg)"/>
<ellipse cx="1804.7" cy="1009.9" rx="2.6" ry="1.6" fill="#8c826e" opacity="0.75" transform="rotate(-30 1804.7 1009.9)"/>
<ellipse cx="1829.6" cy="1015.1" rx="2.6" ry="1.6" fill="#9a907c" opacity="0.75" transform="rotate(-30 1829.6 1015.1)"/>
<ellipse cx="1877.6" cy="967.8" rx="2.6" ry="1.6" fill="#2e281f" opacity="0.75" transform="rotate(-30 1877.6 967.8)"/>
<ellipse cx="1808.8" cy="982.6" rx="2.6" ry="1.6" fill="#9a907c" opacity="0.75" transform="rotate(-30 1808.8 982.6)"/>
<ellipse cx="1917.3" cy="1003.9" rx="2.6" ry="1.6" fill="#9a907c" opacity="0.75" transform="rotate(-30 1917.3 1003.9)"/>
<ellipse cx="1880.1" cy="975.3" rx="2.6" ry="1.6" fill="#8c826e" opacity="0.75" transform="rotate(-30 1880.1 975.3)"/>
<ellipse cx="1879.4" cy="1038.4" rx="2.6" ry="1.6" fill="#7a705e" opacity="0.75" transform="rotate(-30 1879.4 1038.4)"/>
<ellipse cx="1858.4" cy="1027.2" rx="2.6" ry="1.6" fill="#7a705e" opacity="0.75" transform="rotate(-30 1858.4 1027.2)"/>
<ellipse cx="1902.5" cy="1014.0" rx="2.6" ry="1.6" fill="#9a907c" opacity="0.75" transform="rotate(-30 1902.5 1014.0)"/>
<ellipse cx="1922.7" cy="1003.6" rx="2.6" ry="1.6" fill="#2e281f" opacity="0.75" transform="rotate(-30 1922.7 1003.6)"/>
<ellipse cx="1895.1" cy="1039.3" rx="2.6" ry="1.6" fill="#9a907c" opacity="0.75" transform="rotate(-30 1895.1 1039.3)"/>
<ellipse cx="1894.3" cy="1043.1" rx="2.6" ry="1.6" fill="#2e281f" opacity="0.75" transform="rotate(-30 1894.3 1043.1)"/>
<ellipse cx="1834.3" cy="1032.5" rx="2.6" ry="1.6" fill="#7a705e" opacity="0.75" transform="rotate(-30 1834.3 1032.5)"/>
<ellipse cx="1877.8" cy="988.5" rx="2.6" ry="1.6" fill="#9a907c" opacity="0.75" transform="rotate(-30 1877.8 988.5)"/>
<ellipse cx="1855.4" cy="996.0" rx="2.6" ry="1.6" fill="#2e281f" opacity="0.75" transform="rotate(-30 1855.4 996.0)"/>
<ellipse cx="1826.0" cy="1013.5" rx="2.6" ry="1.6" fill="#9a907c" opacity="0.75" transform="rotate(-30 1826.0 1013.5)"/>
<ellipse cx="1869.8" cy="1041.6" rx="2.6" ry="1.6" fill="#9a907c" opacity="0.75" transform="rotate(-30 1869.8 1041.6)"/>
<ellipse cx="1888.2" cy="1043.7" rx="2.6" ry="1.6" fill="#7a705e" opacity="0.75" transform="rotate(-30 1888.2 1043.7)"/>
<ellipse cx="1886.2" cy="976.4" rx="2.6" ry="1.6" fill="#2e281f" opacity="0.75" transform="rotate(-30 1886.2 976.4)"/>
<ellipse cx="1930.1" cy="1012.1" rx="2.6" ry="1.6" fill="#2e281f" opacity="0.75" transform="rotate(-30 1930.1 1012.1)"/>
<ellipse cx="1894.2" cy="980.6" rx="2.6" ry="1.6" fill="#2e281f" opacity="0.75" transform="rotate(-30 1894.2 980.6)"/>
<ellipse cx="1916.3" cy="1012.5" rx="2.6" ry="1.6" fill="#8c826e" opacity="0.75" transform="rotate(-30 1916.3 1012.5)"/>
<ellipse cx="1837.2" cy="975.3" rx="2.6" ry="1.6" fill="#9a907c" opacity="0.75" transform="rotate(-30 1837.2 975.3)"/>
<ellipse cx="1815.3" cy="1029.7" rx="2.6" ry="1.6" fill="#2e281f" opacity="0.75" transform="rotate(-30 1815.3 1029.7)"/>
<ellipse cx="1895.1" cy="991.1" rx="2.6" ry="1.6" fill="#2e281f" opacity="0.75" transform="rotate(-30 1895.1 991.1)"/>
<ellipse cx="1797.1" cy="997.9" rx="2.6" ry="1.6" fill="#2e281f" opacity="0.75" transform="rotate(-30 1797.1 997.9)"/>
<ellipse cx="1874.8" cy="975.7" rx="2.6" ry="1.6" fill="#7a705e" opacity="0.75" transform="rotate(-30 1874.8 975.7)"/>
<ellipse cx="1928.6" cy="995.2" rx="2.6" ry="1.6" fill="#8c826e" opacity="0.75" transform="rotate(-30 1928.6 995.2)"/>
<ellipse cx="1846.6" cy="1007.8" rx="2.6" ry="1.6" fill="#8c826e" opacity="0.75" transform="rotate(-30 1846.6 1007.8)"/>
<ellipse cx="1881.1" cy="1014.4" rx="2.6" ry="1.6" fill="#7a705e" opacity="0.75" transform="rotate(-30 1881.1 1014.4)"/>
<ellipse cx="1865.1" cy="1016.6" rx="2.6" ry="1.6" fill="#7a705e" opacity="0.75" transform="rotate(-30 1865.1 1016.6)"/>
<ellipse cx="1936.8" cy="1006.6" rx="2.6" ry="1.6" fill="#8c826e" opacity="0.75" transform="rotate(-30 1936.8 1006.6)"/>
<ellipse cx="1841.1" cy="1025.4" rx="2.6" ry="1.6" fill="#7a705e" opacity="0.75" transform="rotate(-30 1841.1 1025.4)"/>
<ellipse cx="1804.7" cy="988.5" rx="2.6" ry="1.6" fill="#8c826e" opacity="0.75" transform="rotate(-30 1804.7 988.5)"/>
<ellipse cx="1838.1" cy="1013.0" rx="2.6" ry="1.6" fill="#8c826e" opacity="0.75" transform="rotate(-30 1838.1 1013.0)"/>
<ellipse cx="1763.8" cy="1016.2" rx="2.6" ry="1.6" fill="#7a705e" opacity="0.75" transform="rotate(-30 1763.8 1016.2)"/>
<ellipse cx="1878.8" cy="967.3" rx="2.6" ry="1.6" fill="#9a907c" opacity="0.75" transform="rotate(-30 1878.8 967.3)"/>
<ellipse cx="1877.9" cy="1003.0" rx="2.6" ry="1.6" fill="#2e281f" opacity="0.75" transform="rotate(-30 1877.9 1003.0)"/>
<ellipse cx="1887.7" cy="993.0" rx="2.6" ry="1.6" fill="#2e281f" opacity="0.75" transform="rotate(-30 1887.7 993.0)"/>
<ellipse cx="1892.9" cy="1026.9" rx="2.6" ry="1.6" fill="#8c826e" opacity="0.75" transform="rotate(-30 1892.9 1026.9)"/>
<ellipse cx="1887.1" cy="1046.8" rx="2.6" ry="1.6" fill="#9a907c" opacity="0.75" transform="rotate(-30 1887.1 1046.8)"/>
<ellipse cx="1807.2" cy="1002.2" rx="2.6" ry="1.6" fill="#7a705e" opacity="0.75" transform="rotate(-30 1807.2 1002.2)"/>
<ellipse cx="1871.4" cy="990.2" rx="2.6" ry="1.6" fill="#7a705e" opacity="0.75" transform="rotate(-30 1871.4 990.2)"/>
<ellipse cx="1828.4" cy="989.5" rx="2.6" ry="1.6" fill="#8c826e" opacity="0.75" transform="rotate(-30 1828.4 989.5)"/>
<ellipse cx="1829.4" cy="1014.4" rx="2.6" ry="1.6" fill="#2e281f" opacity="0.75" transform="rotate(-30 1829.4 1014.4)"/>
<ellipse cx="1816.5" cy="995.2" rx="2.6" ry="1.6" fill="#9a907c" opacity="0.75" transform="rotate(-30 1816.5 995.2)"/>
<ellipse cx="1867.0" cy="1026.7" rx="2.6" ry="1.6" fill="#2e281f" opacity="0.75" transform="rotate(-30 1867.0 1026.7)"/>
<ellipse cx="1818.3" cy="981.6" rx="2.6" ry="1.6" fill="#8c826e" opacity="0.75" transform="rotate(-30 1818.3 981.6)"/>
<ellipse cx="1911.1" cy="983.0" rx="2.6" ry="1.6" fill="#8c826e" opacity="0.75" transform="rotate(-30 1911.1 983.0)"/>
<ellipse cx="1795.2" cy="1000.3" rx="2.6" ry="1.6" fill="#9a907c" opacity="0.75" transform="rotate(-30 1795.2 1000.3)"/>
<ellipse cx="1891.2" cy="971.0" rx="2.6" ry="1.6" fill="#2e281f" opacity="0.75" transform="rotate(-30 1891.2 971.0)"/>
<ellipse cx="1820.5" cy="991.4" rx="2.6" ry="1.6" fill="#2e281f" opacity="0.75" transform="rotate(-30 1820.5 991.4)"/>
<ellipse cx="1916.7" cy="1000.6" rx="2.6" ry="1.6" fill="#7a705e" opacity="0.75" transform="rotate(-30 1916.7 1000.6)"/>
<ellipse cx="1823.3" cy="1019.2" rx="2.6" ry="1.6" fill="#9a907c" opacity="0.75" transform="rotate(-30 1823.3 1019.2)"/>
<ellipse cx="1926.4" cy="1001.7" rx="2.6" ry="1.6" fill="#9a907c" opacity="0.75" transform="rotate(-30 1926.4 1001.7)"/>
<ellipse cx="1859.6" cy="978.8" rx="2.6" ry="1.6" fill="#2e281f" opacity="0.75" transform="rotate(-30 1859.6 978.8)"/>
<ellipse cx="1911.7" cy="1035.8" rx="2.6" ry="1.6" fill="#2e281f" opacity="0.75" transform="rotate(-30 1911.7 1035.8)"/>
<ellipse cx="1794.5" cy="986.5" rx="2.6" ry="1.6" fill="#8c826e" opacity="0.75" transform="rotate(-30 1794.5 986.5)"/>
<ellipse cx="1911.8" cy="1018.5" rx="2.6" ry="1.6" fill="#8c826e" opacity="0.75" transform="rotate(-30 1911.8 1018.5)"/>
<ellipse cx="1911.6" cy="992.4" rx="2.6" ry="1.6" fill="#9a907c" opacity="0.75" transform="rotate(-30 1911.6 992.4)"/>
<ellipse cx="1909.2" cy="985.9" rx="2.6" ry="1.6" fill="#8c826e" opacity="0.75" transform="rotate(-30 1909.2 985.9)"/>
<ellipse cx="1825.1" cy="998.7" rx="2.6" ry="1.6" fill="#7a705e" opacity="0.75" transform="rotate(-30 1825.1 998.7)"/>
<ellipse cx="1838.9" cy="998.0" rx="2.6" ry="1.6" fill="#7a705e" opacity="0.75" transform="rotate(-30 1838.9 998.0)"/>
<ellipse cx="1900.2" cy="1035.6" rx="2.6" ry="1.6" fill="#7a705e" opacity="0.75" transform="rotate(-30 1900.2 1035.6)"/>
<ellipse cx="1884.6" cy="1007.7" rx="2.6" ry="1.6" fill="#9a907c" opacity="0.75" transform="rotate(-30 1884.6 1007.7)"/>
<ellipse cx="1814.3" cy="992.0" rx="2.6" ry="1.6" fill="#2e281f" opacity="0.75" transform="rotate(-30 1814.3 992.0)"/>
<ellipse cx="1870.7" cy="987.3" rx="2.6" ry="1.6" fill="#7a705e" opacity="0.75" transform="rotate(-30 1870.7 987.3)"/>
<ellipse cx="1929.9" cy="1023.0" rx="2.6" ry="1.6" fill="#2e281f" opacity="0.75" transform="rotate(-30 1929.9 1023.0)"/>
<ellipse cx="1929.1" cy="1012.8" rx="2.6" ry="1.6" fill="#8c826e" opacity="0.75" transform="rotate(-30 1929.1 1012.8)"/>
<ellipse cx="1792.3" cy="988.4" rx="2.6" ry="1.6" fill="#7a705e" opacity="0.75" transform="rotate(-30 1792.3 988.4)"/>
<ellipse cx="1884.6" cy="1008.2" rx="2.6" ry="1.6" fill="#8c826e" opacity="0.75" transform="rotate(-30 1884.6 1008.2)"/>
<ellipse cx="1875.1" cy="992.0" rx="2.6" ry="1.6" fill="#8c826e" opacity="0.75" transform="rotate(-30 1875.1 992.0)"/>
<ellipse cx="1807.5" cy="1037.8" rx="2.6" ry="1.6" fill="#9a907c" opacity="0.75" transform="rotate(-30 1807.5 1037.8)"/>
<ellipse cx="1849.7" cy="1030.8" rx="2.6" ry="1.6" fill="#8c826e" opacity="0.75" transform="rotate(-30 1849.7 1030.8)"/>
<ellipse cx="1826.1" cy="979.4" rx="2.6" ry="1.6" fill="#9a907c" opacity="0.75" transform="rotate(-30 1826.1 979.4)"/>
<ellipse cx="1860.5" cy="1033.9" rx="2.6" ry="1.6" fill="#9a907c" opacity="0.75" transform="rotate(-30 1860.5 1033.9)"/>
<ellipse cx="1792.2" cy="1031.7" rx="2.6" ry="1.6" fill="#9a907c" opacity="0.75" transform="rotate(-30 1792.2 1031.7)"/>
<ellipse cx="1878.2" cy="1037.9" rx="2.6" ry="1.6" fill="#2e281f" opacity="0.75" transform="rotate(-30 1878.2 1037.9)"/>
<ellipse cx="1810.5" cy="1008.4" rx="2.6" ry="1.6" fill="#7a705e" opacity="0.75" transform="rotate(-30 1810.5 1008.4)"/>
<ellipse cx="1839.5" cy="1003.6" rx="2.6" ry="1.6" fill="#2e281f" opacity="0.75" transform="rotate(-30 1839.5 1003.6)"/>
<ellipse cx="1776.2" cy="1006.2" rx="2.6" ry="1.6" fill="#7a705e" opacity="0.75" transform="rotate(-30 1776.2 1006.2)"/>
<ellipse cx="1819.4" cy="989.7" rx="2.6" ry="1.6" fill="#8c826e" opacity="0.75" transform="rotate(-30 1819.4 989.7)"/>
<ellipse cx="1826.0" cy="1018.9" rx="2.6" ry="1.6" fill="#7a705e" opacity="0.75" transform="rotate(-30 1826.0 1018.9)"/>
<ellipse cx="1870.3" cy="993.8" rx="2.6" ry="1.6" fill="#8c826e" opacity="0.75" transform="rotate(-30 1870.3 993.8)"/>
<ellipse cx="1795.9" cy="990.9" rx="2.6" ry="1.6" fill="#9a907c" opacity="0.75" transform="rotate(-30 1795.9 990.9)"/>
<ellipse cx="1783.3" cy="1010.9" rx="2.6" ry="1.6" fill="#2e281f" opacity="0.75" transform="rotate(-30 1783.3 1010.9)"/>
<ellipse cx="1894.6" cy="995.5" rx="2.6" ry="1.6" fill="#9a907c" opacity="0.75" transform="rotate(-30 1894.6 995.5)"/>
<ellipse cx="1830.2" cy="1015.2" rx="2.6" ry="1.6" fill="#9a907c" opacity="0.75" transform="rotate(-30 1830.2 1015.2)"/>
<ellipse cx="1907.1" cy="995.5" rx="2.6" ry="1.6" fill="#2e281f" opacity="0.75" transform="rotate(-30 1907.1 995.5)"/>
<ellipse cx="1910.6" cy="1016.8" rx="2.6" ry="1.6" fill="#2e281f" opacity="0.75" transform="rotate(-30 1910.6 1016.8)"/>
<ellipse cx="1841.1" cy="994.8" rx="2.6" ry="1.6" fill="#9a907c" opacity="0.75" transform="rotate(-30 1841.1 994.8)"/>
<ellipse cx="1853.3" cy="1023.9" rx="2.6" ry="1.6" fill="#2e281f" opacity="0.75" transform="rotate(-30 1853.3 1023.9)"/>
<ellipse cx="1839.1" cy="1023.1" rx="2.6" ry="1.6" fill="#7a705e" opacity="0.75" transform="rotate(-30 1839.1 1023.1)"/>
<ellipse cx="1846.6" cy="983.6" rx="2.6" ry="1.6" fill="#2e281f" opacity="0.75" transform="rotate(-30 1846.6 983.6)"/>
<ellipse cx="1860.7" cy="1023.2" rx="2.6" ry="1.6" fill="#7a705e" opacity="0.75" transform="rotate(-30 1860.7 1023.2)"/>
<ellipse cx="1773.5" cy="999.4" rx="2.6" ry="1.6" fill="#8c826e" opacity="0.75" transform="rotate(-30 1773.5 999.4)"/>
<ellipse cx="1840.1" cy="1039.4" rx="2.6" ry="1.6" fill="#9a907c" opacity="0.75" transform="rotate(-30 1840.1 1039.4)"/>
<ellipse cx="1809.3" cy="1002.8" rx="2.6" ry="1.6" fill="#9a907c" opacity="0.75" transform="rotate(-30 1809.3 1002.8)"/>
<ellipse cx="1884.5" cy="1040.1" rx="2.6" ry="1.6" fill="#7a705e" opacity="0.75" transform="rotate(-30 1884.5 1040.1)"/>
<ellipse cx="1909.0" cy="1020.7" rx="2.6" ry="1.6" fill="#9a907c" opacity="0.75" transform="rotate(-30 1909.0 1020.7)"/>
<ellipse cx="1897.9" cy="1011.6" rx="2.6" ry="1.6" fill="#2e281f" opacity="0.75" transform="rotate(-30 1897.9 1011.6)"/>
<ellipse cx="1779.4" cy="1013.7" rx="2.6" ry="1.6" fill="#8c826e" opacity="0.75" transform="rotate(-30 1779.4 1013.7)"/>
<ellipse cx="1886.6" cy="1035.6" rx="2.6" ry="1.6" fill="#2e281f" opacity="0.75" transform="rotate(-30 1886.6 1035.6)"/>
<ellipse cx="1939.1" cy="1013.0" rx="2.6" ry="1.6" fill="#8c826e" opacity="0.75" transform="rotate(-30 1939.1 1013.0)"/>
<ellipse cx="1904.3" cy="1007.0" rx="2.6" ry="1.6" fill="#9a907c" opacity="0.75" transform="rotate(-30 1904.3 1007.0)"/>
<ellipse cx="1894.4" cy="971.4" rx="2.6" ry="1.6" fill="#7a705e" opacity="0.75" transform="rotate(-30 1894.4 971.4)"/>
<ellipse cx="1900.8" cy="1044.2" rx="2.6" ry="1.6" fill="#2e281f" opacity="0.75" transform="rotate(-30 1900.8 1044.2)"/>
<ellipse cx="1866.0" cy="1034.9" rx="2.6" ry="1.6" fill="#2e281f" opacity="0.75" transform="rotate(-30 1866.0 1034.9)"/>
<ellipse cx="1805.5" cy="977.8" rx="2.6" ry="1.6" fill="#8c826e" opacity="0.75" transform="rotate(-30 1805.5 977.8)"/>
<ellipse cx="1807.0" cy="1016.2" rx="2.6" ry="1.6" fill="#9a907c" opacity="0.75" transform="rotate(-30 1807.0 1016.2)"/>
<ellipse cx="1901.7" cy="996.6" rx="2.6" ry="1.6" fill="#8c826e" opacity="0.75" transform="rotate(-30 1901.7 996.6)"/>
<ellipse cx="1829.1" cy="996.9" rx="2.6" ry="1.6" fill="#2e281f" opacity="0.75" transform="rotate(-30 1829.1 996.9)"/>
<ellipse cx="1825.9" cy="998.8" rx="2.6" ry="1.6" fill="#8c826e" opacity="0.75" transform="rotate(-30 1825.9 998.8)"/>
<ellipse cx="1775.7" cy="1006.0" rx="2.6" ry="1.6" fill="#9a907c" opacity="0.75" transform="rotate(-30 1775.7 1006.0)"/>
<ellipse cx="1900.5" cy="976.1" rx="2.6" ry="1.6" fill="#9a907c" opacity="0.75" transform="rotate(-30 1900.5 976.1)"/>
<ellipse cx="1889.9" cy="1028.5" rx="2.6" ry="1.6" fill="#7a705e" opacity="0.75" transform="rotate(-30 1889.9 1028.5)"/>
<ellipse cx="1886.7" cy="1007.5" rx="2.6" ry="1.6" fill="#2e281f" opacity="0.75" transform="rotate(-30 1886.7 1007.5)"/>
<ellipse cx="1850.9" cy="1018.6" rx="2.6" ry="1.6" fill="#2e281f" opacity="0.75" transform="rotate(-30 1850.9 1018.6)"/>
<ellipse cx="1932.3" cy="1007.5" rx="2.6" ry="1.6" fill="#7a705e" opacity="0.75" transform="rotate(-30 1932.3 1007.5)"/>
<ellipse cx="1843.3" cy="1025.3" rx="2.6" ry="1.6" fill="#9a907c" opacity="0.75" transform="rotate(-30 1843.3 1025.3)"/>
<ellipse cx="1795.0" cy="985.5" rx="2.6" ry="1.6" fill="#9a907c" opacity="0.75" transform="rotate(-30 1795.0 985.5)"/>
<ellipse cx="1797.4" cy="1013.5" rx="2.6" ry="1.6" fill="#2e281f" opacity="0.75" transform="rotate(-30 1797.4 1013.5)"/>
<ellipse cx="1819.2" cy="982.4" rx="2.6" ry="1.6" fill="#8c826e" opacity="0.75" transform="rotate(-30 1819.2 982.4)"/>
<ellipse cx="1889.9" cy="1045.9" rx="2.6" ry="1.6" fill="#2e281f" opacity="0.75" transform="rotate(-30 1889.9 1045.9)"/>
<ellipse cx="1815.6" cy="1024.1" rx="2.6" ry="1.6" fill="#7a705e" opacity="0.75" transform="rotate(-30 1815.6 1024.1)"/>
<ellipse cx="1837.7" cy="1037.1" rx="2.6" ry="1.6" fill="#8c826e" opacity="0.75" transform="rotate(-30 1837.7 1037.1)"/>
<ellipse cx="1869.9" cy="985.5" rx="2.6" ry="1.6" fill="#2e281f" opacity="0.75" transform="rotate(-30 1869.9 985.5)"/>
<ellipse cx="1850.1" cy="995.7" rx="2.6" ry="1.6" fill="#2e281f" opacity="0.75" transform="rotate(-30 1850.1 995.7)"/>
<ellipse cx="1792.4" cy="993.7" rx="2.6" ry="1.6" fill="#9a907c" opacity="0.75" transform="rotate(-30 1792.4 993.7)"/>
<ellipse cx="1820.5" cy="1030.1" rx="2.6" ry="1.6" fill="#2e281f" opacity="0.75" transform="rotate(-30 1820.5 1030.1)"/>
<ellipse cx="1850.2" cy="1014.7" rx="2.6" ry="1.6" fill="#8c826e" opacity="0.75" transform="rotate(-30 1850.2 1014.7)"/>
<ellipse cx="1848.0" cy="1035.4" rx="2.6" ry="1.6" fill="#7a705e" opacity="0.75" transform="rotate(-30 1848.0 1035.4)"/>
<ellipse cx="1914.5" cy="1011.0" rx="2.6" ry="1.6" fill="#9a907c" opacity="0.75" transform="rotate(-30 1914.5 1011.0)"/>
<ellipse cx="1850.5" cy="1025.4" rx="2.6" ry="1.6" fill="#2e281f" opacity="0.75" transform="rotate(-30 1850.5 1025.4)"/>
<ellipse cx="1921.1" cy="997.2" rx="2.6" ry="1.6" fill="#9a907c" opacity="0.75" transform="rotate(-30 1921.1 997.2)"/>
<ellipse cx="1897.9" cy="1046.5" rx="2.6" ry="1.6" fill="#8c826e" opacity="0.75" transform="rotate(-30 1897.9 1046.5)"/>
<ellipse cx="1847.9" cy="982.2" rx="2.6" ry="1.6" fill="#9a907c" opacity="0.75" transform="rotate(-30 1847.9 982.2)"/>
<ellipse cx="1804.1" cy="1025.2" rx="2.6" ry="1.6" fill="#7a705e" opacity="0.75" transform="rotate(-30 1804.1 1025.2)"/>
<ellipse cx="1887.0" cy="1046.4" rx="2.6" ry="1.6" fill="#7a705e" opacity="0.75" transform="rotate(-30 1887.0 1046.4)"/>
<ellipse cx="1795.6" cy="984.8" rx="2.6" ry="1.6" fill="#8c826e" opacity="0.75" transform="rotate(-30 1795.6 984.8)"/>
<ellipse cx="1795.2" cy="1024.0" rx="2.6" ry="1.6" fill="#8c826e" opacity="0.75" transform="rotate(-30 1795.2 1024.0)"/>
<ellipse cx="1807.9" cy="1038.1" rx="2.6" ry="1.6" fill="#8c826e" opacity="0.75" transform="rotate(-30 1807.9 1038.1)"/>
<ellipse cx="1818.9" cy="999.2" rx="2.6" ry="1.6" fill="#8c826e" opacity="0.75" transform="rotate(-30 1818.9 999.2)"/>
<ellipse cx="1814.9" cy="993.4" rx="2.6" ry="1.6" fill="#2e281f" opacity="0.75" transform="rotate(-30 1814.9 993.4)"/>
<ellipse cx="1869.1" cy="1021.4" rx="2.6" ry="1.6" fill="#8c826e" opacity="0.75" transform="rotate(-30 1869.1 1021.4)"/>
<ellipse cx="1842.0" cy="1004.8" rx="2.6" ry="1.6" fill="#9a907c" opacity="0.75" transform="rotate(-30 1842.0 1004.8)"/>
<ellipse cx="1799.5" cy="1013.5" rx="2.6" ry="1.6" fill="#2e281f" opacity="0.75" transform="rotate(-30 1799.5 1013.5)"/>
<ellipse cx="1862.3" cy="972.5" rx="2.6" ry="1.6" fill="#9a907c" opacity="0.75" transform="rotate(-30 1862.3 972.5)"/>
<ellipse cx="1811.7" cy="1020.6" rx="2.6" ry="1.6" fill="#9a907c" opacity="0.75" transform="rotate(-30 1811.7 1020.6)"/>
<ellipse cx="1905.2" cy="1028.6" rx="2.6" ry="1.6" fill="#2e281f" opacity="0.75" transform="rotate(-30 1905.2 1028.6)"/>
<ellipse cx="1815.6" cy="1021.5" rx="2.6" ry="1.6" fill="#2e281f" opacity="0.75" transform="rotate(-30 1815.6 1021.5)"/>
<ellipse cx="1883.0" cy="1032.9" rx="2.6" ry="1.6" fill="#8c826e" opacity="0.75" transform="rotate(-30 1883.0 1032.9)"/>
<ellipse cx="1809.9" cy="1028.4" rx="2.6" ry="1.6" fill="#7a705e" opacity="0.75" transform="rotate(-30 1809.9 1028.4)"/>
<ellipse cx="1940.7" cy="1021.2" rx="2.6" ry="1.6" fill="#7a705e" opacity="0.75" transform="rotate(-30 1940.7 1021.2)"/>
<ellipse cx="1860.8" cy="972.0" rx="2.6" ry="1.6" fill="#9a907c" opacity="0.75" transform="rotate(-30 1860.8 972.0)"/>
<ellipse cx="1852.8" cy="993.0" rx="2.6" ry="1.6" fill="#7a705e" opacity="0.75" transform="rotate(-30 1852.8 993.0)"/>
<ellipse cx="1895.0" cy="1021.7" rx="2.6" ry="1.6" fill="#7a705e" opacity="0.75" transform="rotate(-30 1895.0 1021.7)"/>
<ellipse cx="1866.5" cy="978.0" rx="2.6" ry="1.6" fill="#7a705e" opacity="0.75" transform="rotate(-30 1866.5 978.0)"/>
<ellipse cx="1881.4" cy="1017.5" rx="2.6" ry="1.6" fill="#7a705e" opacity="0.75" transform="rotate(-30 1881.4 1017.5)"/>
<ellipse cx="1793.7" cy="1040.3" rx="2.6" ry="1.6" fill="#9a907c" opacity="0.75" transform="rotate(-30 1793.7 1040.3)"/>
<ellipse cx="1883.2" cy="972.8" rx="2.6" ry="1.6" fill="#9a907c" opacity="0.75" transform="rotate(-30 1883.2 972.8)"/>
<ellipse cx="1822.3" cy="1025.4" rx="2.6" ry="1.6" fill="#8c826e" opacity="0.75" transform="rotate(-30 1822.3 1025.4)"/>
<ellipse cx="1872.3" cy="1010.8" rx="2.6" ry="1.6" fill="#7a705e" opacity="0.75" transform="rotate(-30 1872.3 1010.8)"/>
<ellipse cx="1881.7" cy="1002.3" rx="2.6" ry="1.6" fill="#9a907c" opacity="0.75" transform="rotate(-30 1881.7 1002.3)"/>
<ellipse cx="1818.7" cy="977.5" rx="2.6" ry="1.6" fill="#8c826e" opacity="0.75" transform="rotate(-30 1818.7 977.5)"/>
<ellipse cx="1901.8" cy="1009.8" rx="2.6" ry="1.6" fill="#7a705e" opacity="0.75" transform="rotate(-30 1901.8 1009.8)"/>
<ellipse cx="1899.1" cy="993.6" rx="2.6" ry="1.6" fill="#7a705e" opacity="0.75" transform="rotate(-30 1899.1 993.6)"/>
<ellipse cx="1810.0" cy="995.7" rx="2.6" ry="1.6" fill="#2e281f" opacity="0.75" transform="rotate(-30 1810.0 995.7)"/>
<ellipse cx="1854.9" cy="983.8" rx="2.6" ry="1.6" fill="#7a705e" opacity="0.75" transform="rotate(-30 1854.9 983.8)"/>
<ellipse cx="1904.6" cy="993.2" rx="2.6" ry="1.6" fill="#7a705e" opacity="0.75" transform="rotate(-30 1904.6 993.2)"/>
<ellipse cx="1822.6" cy="997.5" rx="2.6" ry="1.6" fill="#7a705e" opacity="0.75" transform="rotate(-30 1822.6 997.5)"/>
<ellipse cx="1861.8" cy="1029.9" rx="2.6" ry="1.6" fill="#8c826e" opacity="0.75" transform="rotate(-30 1861.8 1029.9)"/>
<ellipse cx="1826.3" cy="1036.5" rx="2.6" ry="1.6" fill="#7a705e" opacity="0.75" transform="rotate(-30 1826.3 1036.5)"/>
<ellipse cx="1906.4" cy="1026.0" rx="2.6" ry="1.6" fill="#7a705e" opacity="0.75" transform="rotate(-30 1906.4 1026.0)"/>
<ellipse cx="1838.3" cy="1027.4" rx="2.6" ry="1.6" fill="#9a907c" opacity="0.75" transform="rotate(-30 1838.3 1027.4)"/>
<ellipse cx="1913.4" cy="1027.9" rx="2.6" ry="1.6" fill="#8c826e" opacity="0.75" transform="rotate(-30 1913.4 1027.9)"/>
<ellipse cx="1871.3" cy="974.9" rx="2.6" ry="1.6" fill="#9a907c" opacity="0.75" transform="rotate(-30 1871.3 974.9)"/>
<ellipse cx="1834.9" cy="979.0" rx="2.6" ry="1.6" fill="#9a907c" opacity="0.75" transform="rotate(-30 1834.9 979.0)"/>
<ellipse cx="1859.2" cy="1012.0" rx="2.6" ry="1.6" fill="#7a705e" opacity="0.75" transform="rotate(-30 1859.2 1012.0)"/>
<ellipse cx="1798.0" cy="984.0" rx="2.6" ry="1.6" fill="#8c826e" opacity="0.75" transform="rotate(-30 1798.0 984.0)"/>
<ellipse cx="1911.0" cy="1040.4" rx="2.6" ry="1.6" fill="#2e281f" opacity="0.75" transform="rotate(-30 1911.0 1040.4)"/>
<ellipse cx="1863.9" cy="1013.3" rx="2.6" ry="1.6" fill="#8c826e" opacity="0.75" transform="rotate(-30 1863.9 1013.3)"/>
<ellipse cx="1889.1" cy="988.3" rx="2.6" ry="1.6" fill="#7a705e" opacity="0.75" transform="rotate(-30 1889.1 988.3)"/>
<ellipse cx="1921.7" cy="1004.6" rx="2.6" ry="1.6" fill="#8c826e" opacity="0.75" transform="rotate(-30 1921.7 1004.6)"/>
<ellipse cx="1873.1" cy="1026.0" rx="2.6" ry="1.6" fill="#7a705e" opacity="0.75" transform="rotate(-30 1873.1 1026.0)"/>
<ellipse cx="1884.4" cy="1005.3" rx="2.6" ry="1.6" fill="#2e281f" opacity="0.75" transform="rotate(-30 1884.4 1005.3)"/>
<ellipse cx="1858.4" cy="1002.5" rx="2.6" ry="1.6" fill="#7a705e" opacity="0.75" transform="rotate(-30 1858.4 1002.5)"/>
<ellipse cx="1796.4" cy="1008.6" rx="2.6" ry="1.6" fill="#9a907c" opacity="0.75" transform="rotate(-30 1796.4 1008.6)"/>
<ellipse cx="1767.0" cy="1006.0" rx="2.6" ry="1.6" fill="#2e281f" opacity="0.75" transform="rotate(-30 1767.0 1006.0)"/>
<ellipse cx="1881.4" cy="1001.1" rx="2.6" ry="1.6" fill="#8c826e" opacity="0.75" transform="rotate(-30 1881.4 1001.1)"/>
<ellipse cx="1909.0" cy="1016.8" rx="2.6" ry="1.6" fill="#7a705e" opacity="0.75" transform="rotate(-30 1909.0 1016.8)"/>
<ellipse cx="1820.7" cy="1038.6" rx="2.6" ry="1.6" fill="#8c826e" opacity="0.75" transform="rotate(-30 1820.7 1038.6)"/>
<ellipse cx="1890.6" cy="973.8" rx="2.6" ry="1.6" fill="#2e281f" opacity="0.75" transform="rotate(-30 1890.6 973.8)"/>
<ellipse cx="1921.4" cy="1014.9" rx="2.6" ry="1.6" fill="#7a705e" opacity="0.75" transform="rotate(-30 1921.4 1014.9)"/>
<ellipse cx="1934.3" cy="1025.0" rx="2.6" ry="1.6" fill="#9a907c" opacity="0.75" transform="rotate(-30 1934.3 1025.0)"/>
<ellipse cx="1899.1" cy="992.2" rx="2.6" ry="1.6" fill="#7a705e" opacity="0.75" transform="rotate(-30 1899.1 992.2)"/>
<ellipse cx="1922.0" cy="1000.5" rx="2.6" ry="1.6" fill="#8c826e" opacity="0.75" transform="rotate(-30 1922.0 1000.5)"/>
<ellipse cx="1902.3" cy="1004.7" rx="2.6" ry="1.6" fill="#2e281f" opacity="0.75" transform="rotate(-30 1902.3 1004.7)"/>
<ellipse cx="1790.2" cy="1005.7" rx="2.6" ry="1.6" fill="#9a907c" opacity="0.75" transform="rotate(-30 1790.2 1005.7)"/>
<ellipse cx="1891.5" cy="1009.3" rx="2.6" ry="1.6" fill="#8c826e" opacity="0.75" transform="rotate(-30 1891.5 1009.3)"/>
<ellipse cx="1839.4" cy="1019.1" rx="2.6" ry="1.6" fill="#2e281f" opacity="0.75" transform="rotate(-30 1839.4 1019.1)"/>
<ellipse cx="1817.3" cy="1002.9" rx="2.6" ry="1.6" fill="#9a907c" opacity="0.75" transform="rotate(-30 1817.3 1002.9)"/>
<ellipse cx="1902.3" cy="997.3" rx="2.6" ry="1.6" fill="#8c826e" opacity="0.75" transform="rotate(-30 1902.3 997.3)"/>
<ellipse cx="1794.0" cy="1041.1" rx="2.6" ry="1.6" fill="#2e281f" opacity="0.75" transform="rotate(-30 1794.0 1041.1)"/>
<ellipse cx="1895.3" cy="994.3" rx="2.6" ry="1.6" fill="#9a907c" opacity="0.75" transform="rotate(-30 1895.3 994.3)"/>
<ellipse cx="1829.7" cy="1008.6" rx="2.6" ry="1.6" fill="#9a907c" opacity="0.75" transform="rotate(-30 1829.7 1008.6)"/>
<ellipse cx="1872.1" cy="981.7" rx="2.6" ry="1.6" fill="#9a907c" opacity="0.75" transform="rotate(-30 1872.1 981.7)"/>
<ellipse cx="1846.5" cy="979.2" rx="2.6" ry="1.6" fill="#2e281f" opacity="0.75" transform="rotate(-30 1846.5 979.2)"/>
<ellipse cx="1835.9" cy="976.8" rx="2.6" ry="1.6" fill="#9a907c" opacity="0.75" transform="rotate(-30 1835.9 976.8)"/>
<ellipse cx="1791.6" cy="1005.1" rx="2.6" ry="1.6" fill="#7a705e" opacity="0.75" transform="rotate(-30 1791.6 1005.1)"/>
<ellipse cx="1844.2" cy="997.9" rx="2.6" ry="1.6" fill="#9a907c" opacity="0.75" transform="rotate(-30 1844.2 997.9)"/>
<ellipse cx="1835.8" cy="996.9" rx="2.6" ry="1.6" fill="#9a907c" opacity="0.75" transform="rotate(-30 1835.8 996.9)"/>
<ellipse cx="1849.2" cy="976.5" rx="2.6" ry="1.6" fill="#7a705e" opacity="0.75" transform="rotate(-30 1849.2 976.5)"/>
<ellipse cx="1877.0" cy="992.5" rx="2.6" ry="1.6" fill="#2e281f" opacity="0.75" transform="rotate(-30 1877.0 992.5)"/>
<ellipse cx="1896.8" cy="986.2" rx="2.6" ry="1.6" fill="#7a705e" opacity="0.75" transform="rotate(-30 1896.8 986.2)"/>
<ellipse cx="1908.1" cy="1003.0" rx="2.6" ry="1.6" fill="#2e281f" opacity="0.75" transform="rotate(-30 1908.1 1003.0)"/>
<ellipse cx="1807.0" cy="985.4" rx="2.6" ry="1.6" fill="#7a705e" opacity="0.75" transform="rotate(-30 1807.0 985.4)"/>
<ellipse cx="1913.2" cy="1017.4" rx="2.6" ry="1.6" fill="#2e281f" opacity="0.75" transform="rotate(-30 1913.2 1017.4)"/>
<ellipse cx="1824.8" cy="970.2" rx="2.6" ry="1.6" fill="#2e281f" opacity="0.75" transform="rotate(-30 1824.8 970.2)"/>
<ellipse cx="1888.3" cy="1047.3" rx="2.6" ry="1.6" fill="#7a705e" opacity="0.75" transform="rotate(-30 1888.3 1047.3)"/>
<ellipse cx="1770.1" cy="1019.6" rx="2.6" ry="1.6" fill="#7a705e" opacity="0.75" transform="rotate(-30 1770.1 1019.6)"/>
<ellipse cx="1817.3" cy="1015.4" rx="2.6" ry="1.6" fill="#8c826e" opacity="0.75" transform="rotate(-30 1817.3 1015.4)"/>
<ellipse cx="1815.2" cy="1036.8" rx="2.6" ry="1.6" fill="#8c826e" opacity="0.75" transform="rotate(-30 1815.2 1036.8)"/>
<ellipse cx="1781.6" cy="996.3" rx="2.6" ry="1.6" fill="#9a907c" opacity="0.75" transform="rotate(-30 1781.6 996.3)"/>
<ellipse cx="1822.8" cy="1021.8" rx="2.6" ry="1.6" fill="#7a705e" opacity="0.75" transform="rotate(-30 1822.8 1021.8)"/>
<ellipse cx="1899.1" cy="1026.6" rx="2.6" ry="1.6" fill="#8c826e" opacity="0.75" transform="rotate(-30 1899.1 1026.6)"/>
<ellipse cx="1917.1" cy="1010.7" rx="2.6" ry="1.6" fill="#8c826e" opacity="0.75" transform="rotate(-30 1917.1 1010.7)"/>
<ellipse cx="1838.0" cy="982.2" rx="2.6" ry="1.6" fill="#7a705e" opacity="0.75" transform="rotate(-30 1838.0 982.2)"/>
<ellipse cx="1906.5" cy="1004.3" rx="2.6" ry="1.6" fill="#8c826e" opacity="0.75" transform="rotate(-30 1906.5 1004.3)"/>
<ellipse cx="1810.7" cy="976.9" rx="2.6" ry="1.6" fill="#9a907c" opacity="0.75" transform="rotate(-30 1810.7 976.9)"/>
<ellipse cx="1895.5" cy="1015.3" rx="2.6" ry="1.6" fill="#2e281f" opacity="0.75" transform="rotate(-30 1895.5 1015.3)"/>
<ellipse cx="1893.6" cy="996.0" rx="2.6" ry="1.6" fill="#2e281f" opacity="0.75" transform="rotate(-30 1893.6 996.0)"/>
<ellipse cx="1851.6" cy="975.5" rx="2.6" ry="1.6" fill="#8c826e" opacity="0.75" transform="rotate(-30 1851.6 975.5)"/>
<ellipse cx="1847.8" cy="1028.7" rx="2.6" ry="1.6" fill="#9a907c" opacity="0.75" transform="rotate(-30 1847.8 1028.7)"/>
<ellipse cx="1887.3" cy="970.5" rx="2.6" ry="1.6" fill="#9a907c" opacity="0.75" transform="rotate(-30 1887.3 970.5)"/>
<ellipse cx="1804.6" cy="1036.2" rx="2.6" ry="1.6" fill="#2e281f" opacity="0.75" transform="rotate(-30 1804.6 1036.2)"/>
<ellipse cx="1880.8" cy="1039.3" rx="2.6" ry="1.6" fill="#7a705e" opacity="0.75" transform="rotate(-30 1880.8 1039.3)"/>
<ellipse cx="1924.0" cy="1001.6" rx="2.6" ry="1.6" fill="#7a705e" opacity="0.75" transform="rotate(-30 1924.0 1001.6)"/>
<ellipse cx="1928.6" cy="1026.5" rx="2.6" ry="1.6" fill="#2e281f" opacity="0.75" transform="rotate(-30 1928.6 1026.5)"/>
<ellipse cx="1822.7" cy="994.6" rx="2.6" ry="1.6" fill="#9a907c" opacity="0.75" transform="rotate(-30 1822.7 994.6)"/>
<ellipse cx="1773.5" cy="997.1" rx="2.6" ry="1.6" fill="#2e281f" opacity="0.75" transform="rotate(-30 1773.5 997.1)"/>
<ellipse cx="1867.0" cy="971.7" rx="2.6" ry="1.6" fill="#2e281f" opacity="0.75" transform="rotate(-30 1867.0 971.7)"/>
<ellipse cx="1775.2" cy="1019.1" rx="2.6" ry="1.6" fill="#2e281f" opacity="0.75" transform="rotate(-30 1775.2 1019.1)"/>
<ellipse cx="1788.7" cy="1018.7" rx="2.6" ry="1.6" fill="#2e281f" opacity="0.75" transform="rotate(-30 1788.7 1018.7)"/>
<ellipse cx="1803.2" cy="1047.1" rx="2.6" ry="1.6" fill="#2e281f" opacity="0.75" transform="rotate(-30 1803.2 1047.1)"/>
<ellipse cx="1801.4" cy="1011.5" rx="2.6" ry="1.6" fill="#2e281f" opacity="0.75" transform="rotate(-30 1801.4 1011.5)"/>
<ellipse cx="1838.9" cy="1030.7" rx="2.6" ry="1.6" fill="#2e281f" opacity="0.75" transform="rotate(-30 1838.9 1030.7)"/>
<ellipse cx="1873.6" cy="1031.4" rx="2.6" ry="1.6" fill="#2e281f" opacity="0.75" transform="rotate(-30 1873.6 1031.4)"/>
<ellipse cx="1860.6" cy="978.6" rx="2.6" ry="1.6" fill="#7a705e" opacity="0.75" transform="rotate(-30 1860.6 978.6)"/>
<ellipse cx="1797.5" cy="1040.6" rx="2.6" ry="1.6" fill="#8c826e" opacity="0.75" transform="rotate(-30 1797.5 1040.6)"/>
<ellipse cx="1776.1" cy="1002.9" rx="2.6" ry="1.6" fill="#7a705e" opacity="0.75" transform="rotate(-30 1776.1 1002.9)"/>
<ellipse cx="1801.9" cy="1035.0" rx="2.6" ry="1.6" fill="#2e281f" opacity="0.75" transform="rotate(-30 1801.9 1035.0)"/>
<ellipse cx="1875.7" cy="1018.5" rx="2.6" ry="1.6" fill="#7a705e" opacity="0.75" transform="rotate(-30 1875.7 1018.5)"/>
<ellipse cx="1903.1" cy="1038.7" rx="2.6" ry="1.6" fill="#2e281f" opacity="0.75" transform="rotate(-30 1903.1 1038.7)"/>
<ellipse cx="1825.1" cy="1015.1" rx="2.6" ry="1.6" fill="#9a907c" opacity="0.75" transform="rotate(-30 1825.1 1015.1)"/>
<ellipse cx="1843.8" cy="971.8" rx="2.6" ry="1.6" fill="#2e281f" opacity="0.75" transform="rotate(-30 1843.8 971.8)"/>
<ellipse cx="1917.1" cy="1014.3" rx="2.6" ry="1.6" fill="#9a907c" opacity="0.75" transform="rotate(-30 1917.1 1014.3)"/>
<ellipse cx="1913.2" cy="980.1" rx="2.6" ry="1.6" fill="#7a705e" opacity="0.75" transform="rotate(-30 1913.2 980.1)"/>
<ellipse cx="1861.4" cy="1002.8" rx="2.6" ry="1.6" fill="#9a907c" opacity="0.75" transform="rotate(-30 1861.4 1002.8)"/>
<ellipse cx="1825.1" cy="1004.6" rx="2.6" ry="1.6" fill="#2e281f" opacity="0.75" transform="rotate(-30 1825.1 1004.6)"/>
<ellipse cx="1773.4" cy="1010.6" rx="2.6" ry="1.6" fill="#7a705e" opacity="0.75" transform="rotate(-30 1773.4 1010.6)"/>
<ellipse cx="1898.2" cy="999.2" rx="2.6" ry="1.6" fill="#9a907c" opacity="0.75" transform="rotate(-30 1898.2 999.2)"/>
<ellipse cx="1881.9" cy="1015.3" rx="2.6" ry="1.6" fill="#8c826e" opacity="0.75" transform="rotate(-30 1881.9 1015.3)"/>
<ellipse cx="1800.3" cy="992.8" rx="2.6" ry="1.6" fill="#8c826e" opacity="0.75" transform="rotate(-30 1800.3 992.8)"/>
<ellipse cx="1841.0" cy="969.4" rx="2.6" ry="1.6" fill="#9a907c" opacity="0.75" transform="rotate(-30 1841.0 969.4)"/>
<ellipse cx="1935.0" cy="1025.9" rx="2.6" ry="1.6" fill="#9a907c" opacity="0.75" transform="rotate(-30 1935.0 1025.9)"/>
<ellipse cx="1860.7" cy="998.8" rx="2.6" ry="1.6" fill="#2e281f" opacity="0.75" transform="rotate(-30 1860.7 998.8)"/>
<ellipse cx="1905.4" cy="997.8" rx="2.6" ry="1.6" fill="#8c826e" opacity="0.75" transform="rotate(-30 1905.4 997.8)"/>
<ellipse cx="1814.9" cy="1044.2" rx="2.6" ry="1.6" fill="#7a705e" opacity="0.75" transform="rotate(-30 1814.9 1044.2)"/>
<ellipse cx="1895.8" cy="987.9" rx="2.6" ry="1.6" fill="#9a907c" opacity="0.75" transform="rotate(-30 1895.8 987.9)"/>
<ellipse cx="1857.7" cy="1018.3" rx="2.6" ry="1.6" fill="#9a907c" opacity="0.75" transform="rotate(-30 1857.7 1018.3)"/>
<ellipse cx="1811.9" cy="1000.1" rx="2.6" ry="1.6" fill="#7a705e" opacity="0.75" transform="rotate(-30 1811.9 1000.1)"/>
<ellipse cx="1824.8" cy="1027.3" rx="2.6" ry="1.6" fill="#8c826e" opacity="0.75" transform="rotate(-30 1824.8 1027.3)"/>
<ellipse cx="1900.4" cy="987.3" rx="2.6" ry="1.6" fill="#2e281f" opacity="0.75" transform="rotate(-30 1900.4 987.3)"/>
</g>
</svg></div></body></html>
